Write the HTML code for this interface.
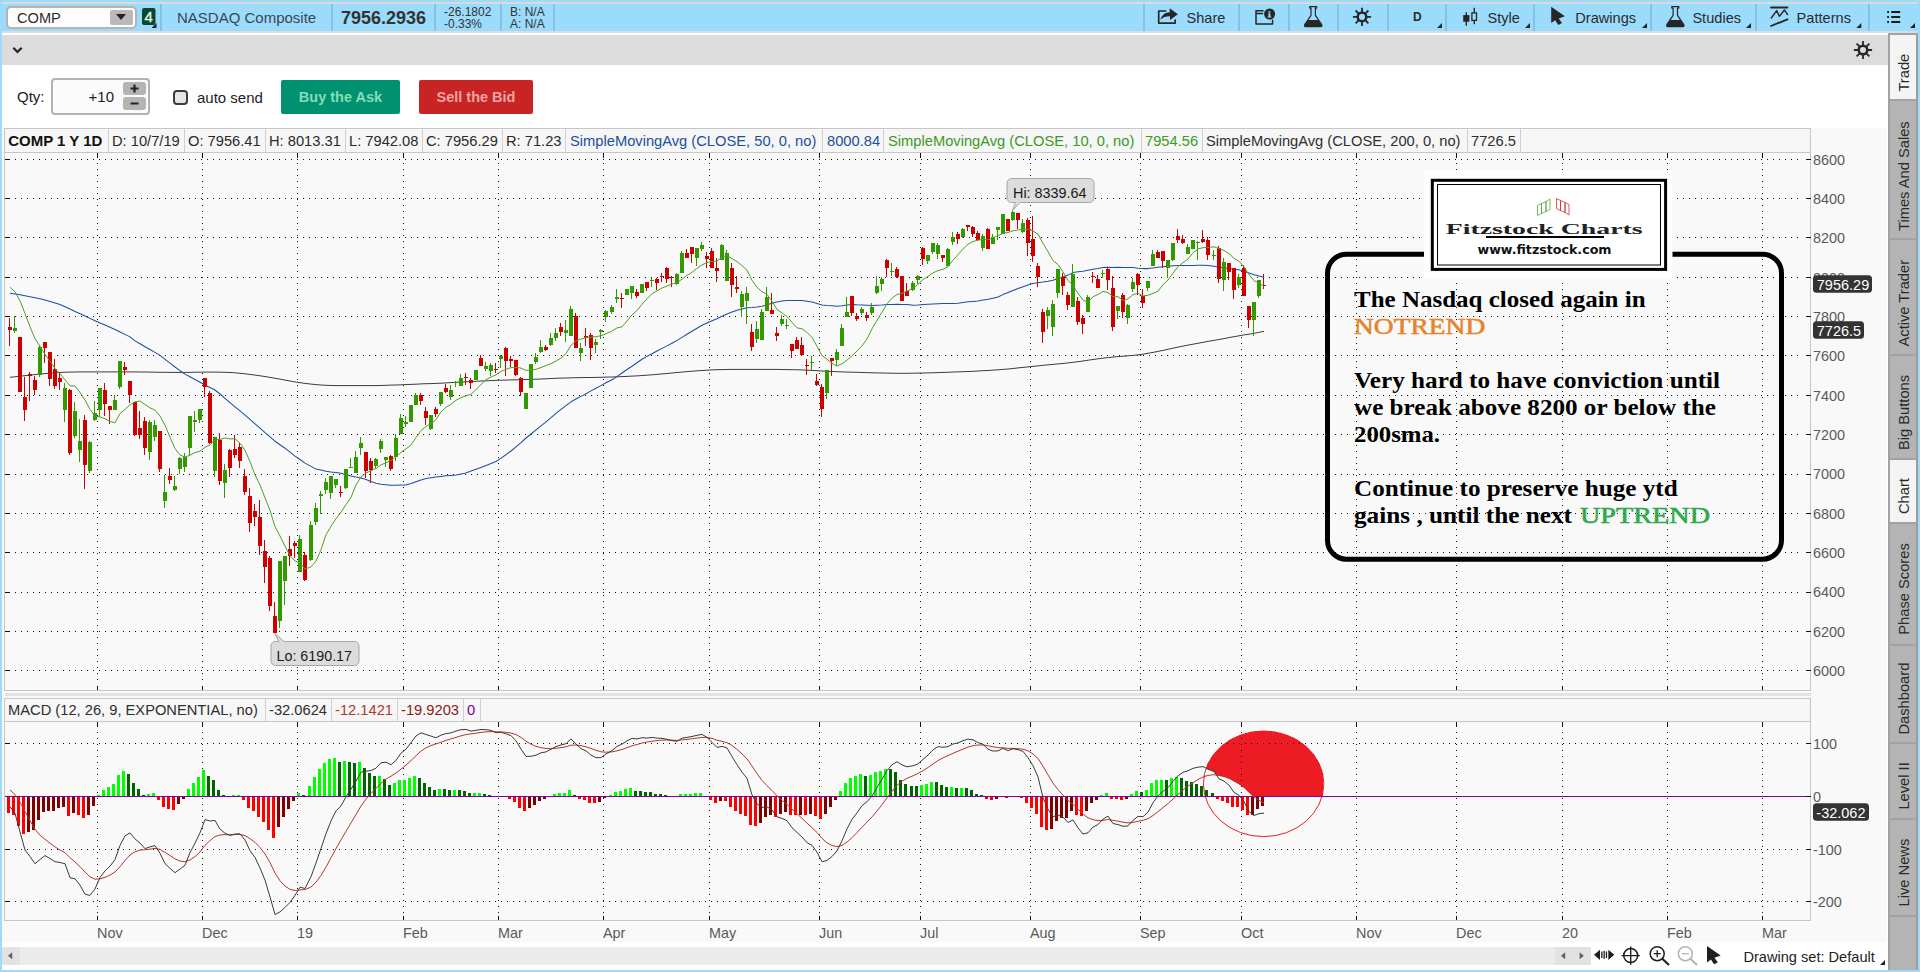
<!DOCTYPE html><html><head><meta charset="utf-8"><title>COMP chart</title><style>

*{box-sizing:border-box}
html,body{margin:0;padding:0}
body{width:1920px;height:972px;overflow:hidden;position:relative;background:#fff;font-family:"Liberation Sans",sans-serif;color:#222;}
.abs{position:absolute}
#frame{left:0;top:0;width:1920px;height:972px;background:#9bdcfd}
#topline{left:2px;top:2px;width:1916px;height:2px;background:#dcd9d6}
#toolbar{left:0;top:4px;width:1920px;height:27px;background:#9bdcfd}
#tbline{left:2px;top:31px;width:1916px;height:2px;background:#dcdcdc}
#main{left:2px;top:33px;width:1886px;height:937px;background:#fff}
#graybar{left:2px;top:35px;width:1886px;height:30px;background:#dcdcdc}
.sep{position:absolute;top:4px;width:2px;height:27px;background:#86c0e2}
.tbtxt{position:absolute;top:10px;font-size:14.6px;color:#2b2b2b;white-space:nowrap;line-height:17px}

</style></head><body>
<div class="abs" id="frame"></div><div class="abs" id="topline"></div><div class="abs" id="toolbar"></div><div class="abs" id="tbline"></div><div class="abs" id="main"></div><div class="abs" id="graybar"></div>
<div class="abs" style="left:6px;top:6px;width:131px;height:23px;background:#fdfdfd;border:2px solid #b6b3b1;border-radius:5px"></div>
<div class="abs" style="left:17px;top:10px;font-size:14.6px;line-height:17px;color:#2b2b2b">COMP</div>
<div class="abs" style="left:110px;top:10px;width:23px;height:15px;background:#b9b9b9;border-radius:2px"></div>
<div class="abs" style="left:116px;top:14px;width:0;height:0;border-left:5px solid transparent;border-right:5px solid transparent;border-top:6px solid #222"></div>
<div class="sep" style="left:160px"></div>
<div class="sep" style="left:331px"></div>
<div class="sep" style="left:434px"></div>
<div class="sep" style="left:500px"></div>
<div class="sep" style="left:553px"></div>
<div class="sep" style="left:1143px"></div>
<div class="sep" style="left:1238px"></div>
<div class="sep" style="left:1288px"></div>
<div class="sep" style="left:1337px"></div>
<div class="sep" style="left:1387px"></div>
<div class="sep" style="left:1445px"></div>
<div class="sep" style="left:1533px"></div>
<div class="sep" style="left:1650px"></div>
<div class="sep" style="left:1754.5px"></div>
<div class="sep" style="left:1868px"></div>
<div class="tbtxt" style="left:177px;top:9.2px;font-size:15px;color:#3a4650">NASDAQ Composite</div>
<div class="tbtxt" style="left:341px;top:8px;font-size:18px;font-weight:bold;line-height:20px;color:#333">7956.2936</div>
<div class="tbtxt" style="left:444px;top:5.5px;font-size:12px;line-height:12.3px;color:#333">-26.1802<br>-0.33%</div>
<div class="tbtxt" style="left:510px;top:5.5px;font-size:12px;line-height:12.3px;color:#333">B: N/A<br>A: N/A</div>
<div class="tbtxt" style="left:1186.5px">Share</div>
<div class="tbtxt" style="left:1487.5px">Style</div>
<div class="tbtxt" style="left:1575.3px">Drawings</div>
<div class="tbtxt" style="left:1692.4px">Studies</div>
<div class="tbtxt" style="left:1796.6px">Patterns</div>
<div class="tbtxt" style="left:1413px;top:10px;font-weight:bold;font-size:12px;line-height:14px">D</div>

<svg class="abs" style="left:0;top:0" width="1920" height="972" viewBox="0 0 1920 972" font-family="Liberation Sans, sans-serif">
<!-- badge 4 -->
<rect x="142" y="8" width="13.5" height="17" rx="2" fill="#06492d"/>
<text x="148.700" y="22" font-size="15" fill="#e9f3ee" stroke="#e9f3ee" stroke-width="0.4" text-anchor="middle">4</text>
<path d="M151.5 28h5v-5z" fill="#222"/>
<!-- dropdown triangles -->
<g fill="#222">
<path d="M1437 28h5v-5z"/><path d="M1525 28h5v-5z"/><path d="M1642 28h5v-5z"/><path d="M1746 28h5v-5z"/><path d="M1856.300 28h5v-5z"/><path d="M1910 28h5v-5z"/>
</g>
<!-- share icon -->
<g fill="none" stroke="#262626" stroke-width="1.700" stroke-linejoin="round" stroke-linecap="round">
<path d="M1165.5 11H1158.700V23.100H1175.200V20"/>
</g>
<path d="M1160.300 19.800C1162 14.500 1165.500 12.300 1169.700 12.200V8.200L1177.900 14.200L1170 20V16.300C1166 16.200 1163 17.300 1160.300 19.800z" fill="#262626"/>
<!-- info window icon -->
<g fill="none" stroke="#262626" stroke-width="1.500" stroke-linejoin="round" stroke-linecap="round">
<path d="M1263 10.700H1256V23.900H1272.600V20.300M1256 13.400H1262.600"/>
</g>
<circle cx="1269.600" cy="14" r="5.500" fill="#262626"/>
<path d="M1268.500 11.200h1.800v1.600h-1.800zM1268 13.600h2.400v3h0.900v1h-3.800v-1h1v-2h-0.500z" fill="#9bdcfd"/>
<!-- flask 1 -->
<g>
<path d="M1309.700 6.600h7v1.500h-1.300v7.300l6.300 9.300c0.600 1 0.100 1.900 -1 1.900h-15c-1.100 0 -1.600 -0.900 -1 -1.900l6.300 -9.300v-7.300h-1.300z" fill="none" stroke="#262626" stroke-width="1.200" stroke-linejoin="round"/>
<path d="M1308.200 19.900h10l3.500 5.200c0.500 0.800 0.100 1.500 -0.800 1.500h-15.400c-0.900 0 -1.300 -0.700 -0.800 -1.500z" fill="#262626"/>
</g>
<g transform="translate(362.1,0)">
<path d="M1309.700 6.600h7v1.500h-1.300v7.300l6.300 9.300c0.600 1 0.100 1.900 -1 1.900h-15c-1.100 0 -1.600 -0.900 -1 -1.900l6.300 -9.300v-7.300h-1.300z" fill="none" stroke="#262626" stroke-width="1.200" stroke-linejoin="round"/>
<path d="M1308.200 19.900h10l3.500 5.200c0.500 0.800 0.100 1.500 -0.800 1.500h-15.400c-0.900 0 -1.300 -0.700 -0.800 -1.500z" fill="#262626"/>
</g>
<!-- gears -->
<g stroke="#262626" fill="none">
<circle cx="1362" cy="16.900" r="4.300" stroke-width="2.500"/>
<path d="M1362 7.800v4M1362 22v4M1352.900 16.900h4M1367.100 16.900h4M1355.600 10.500l2.800 2.800M1365.600 20.500l2.800 2.800M1355.600 23.300l2.800 -2.800M1365.600 13.300l2.800 -2.800" stroke-width="1.800"/>
</g>
<g transform="translate(501,33.1)" stroke="#262626" fill="none">
<circle cx="1362" cy="16.900" r="4.300" stroke-width="2.500"/>
<path d="M1362 7.800v4M1362 22v4M1352.900 16.900h4M1367.100 16.900h4M1355.600 10.500l2.800 2.800M1365.600 20.500l2.800 2.800M1355.600 23.300l2.800 -2.800M1365.600 13.300l2.800 -2.800" stroke-width="1.800"/>
</g>
<!-- style candles icon -->
<g fill="#262626">
<rect x="1463.200" y="15.100" width="6.200" height="6.600"/><rect x="1465.600" y="12.200" width="1.400" height="13.500"/>
<rect x="1473.600" y="7.800" width="1.400" height="5"/><rect x="1473.600" y="20.500" width="1.400" height="3.700"/>
</g>
<rect x="1471.900" y="12.900" width="4.600" height="7.500" fill="none" stroke="#262626" stroke-width="1.300"/>
<!-- cursor arrow (Drawings) -->
<path d="M1551.200 6.700V23.100L1555.100 20.200L1558.300 25L1562 23.100L1558.700 18.400L1564.900 16.200z" fill="#262626"/>
<!-- patterns icon -->
<g fill="none" stroke="#262626" stroke-linecap="round" stroke-linejoin="round">
<path d="M1771 7.500H1787.500" stroke-width="1.800"/>
<path d="M1771.300 18L1776.700 10.600L1779.300 16.300L1784.500 10L1787.600 14.600" stroke-width="1.400"/>
<path d="M1771 26L1787.500 19.300" stroke-width="1.800"/>
</g>
<!-- list icon -->
<g fill="#1a1a1a">
<rect x="1887.200" y="11" width="1.800" height="2"/><rect x="1891.200" y="11" width="9" height="2"/>
<rect x="1887.200" y="16" width="1.800" height="2"/><rect x="1891.200" y="16" width="9" height="2"/>
<rect x="1887.200" y="21" width="1.800" height="2"/><rect x="1891.200" y="21" width="9" height="2"/>
</g>
<!-- chevron in gray bar -->
<path d="M13.300 47.800L17.500 52L21.700 47.800" fill="none" stroke="#222" stroke-width="2.200"/>
<!-- S-curve icon -->
<g fill="none" stroke="#262626" stroke-linecap="round">
<path d="M1818.500 132.500H1836.700M1818.500 150.600H1836.700" stroke-width="2.700"/>
<path d="M1817.400 143.500C1818.500 146.500 1820.300 148 1822.500 146.800C1827 144.500 1829 136.500 1833.500 135.500C1835.600 135.100 1837 137 1837.700 139.500" stroke-width="1.300"/>
</g>
<!-- sidebar -->
<g shape-rendering="crispEdges">
<rect x="1888" y="33" width="30" height="937" fill="#b4b4b4"/>
<rect x="1888" y="33" width="2" height="937" fill="#a2a2a2"/>
<rect x="1916" y="33" width="2" height="937" fill="#9e9c9a"/>
<rect x="1890" y="35" width="26" height="64" fill="#f4f4f4"/>
<rect x="1890" y="460" width="26" height="62" fill="#f4f4f4"/>
<g fill="#a2a2a2">
<rect x="1888" y="33" width="30" height="2"/><rect x="1888" y="99" width="30" height="2"/><rect x="1888" y="238" width="30" height="2"/>
<rect x="1888" y="354" width="30" height="2"/><rect x="1888" y="458" width="30" height="2"/><rect x="1888" y="522" width="30" height="2"/>
<rect x="1888" y="644" width="30" height="2"/><rect x="1888" y="742" width="30" height="2"/><rect x="1888" y="817.500" width="30" height="2"/>
<rect x="1888" y="914.500" width="30" height="2"/>
</g>
</g>
<g font-size="14.700" fill="#2a2a2a">
<text transform="translate(1908.800,91.600) rotate(-90)">Trade</text>
<text transform="translate(1908.800,231) rotate(-90)">Times And Sales</text>
<text transform="translate(1908.800,346.500) rotate(-90)">Active Trader</text>
<text transform="translate(1908.800,450) rotate(-90)">Big Buttons</text>
<text transform="translate(1908.800,514) rotate(-90)">Chart</text>
<text transform="translate(1908.800,634.700) rotate(-90)">Phase Scores</text>
<text transform="translate(1908.800,734.500) rotate(-90)">Dashboard</text>
<text transform="translate(1908.800,809.600) rotate(-90)">Level II</text>
<text transform="translate(1908.800,906.500) rotate(-90)">Live News</text>
</g>
<!-- bottom bar -->
<g shape-rendering="crispEdges">
<rect x="2" y="942" width="1886" height="28" fill="#fff"/>
<rect x="2" y="947" width="1589" height="18" fill="#ebebeb"/>
<rect x="2" y="947" width="18" height="18" fill="#e2e2e2"/>
<rect x="1555" y="947" width="36" height="18" fill="#e2e2e2"/>
</g>
<g fill="#5a6268">
<path d="M8 955.800L12.200 952.300V959.300z"/>
<path d="M1561 955.800L1565.200 952.300V959.300z"/>
<path d="M1583.800 955.800L1579.600 952.300V959.300z"/>
</g>
<g fill="#1f1f1f">
<path d="M1594 954.800L1600 949.700V959.900z"/><path d="M1614.300 954.800L1608.300 949.700V959.900z"/>
<rect x="1601.200" y="951.500" width="1.300" height="6.600"/><rect x="1603.500" y="950.800" width="1.300" height="8"/><rect x="1605.800" y="951.500" width="1.300" height="6.600"/>
</g>
<g fill="none" stroke="#1f1f1f" stroke-width="1.500">
<circle cx="1630.700" cy="955.600" r="7"/><path d="M1630.700 946.500V964.700M1621.600 955.600H1639.800" stroke-width="1.400"/>
<circle cx="1657.200" cy="953.700" r="7"/><path d="M1653.700 953.700H1660.700M1657.200 950.200V957.200" stroke-width="1.300"/><path d="M1662.300 958.800L1669 965" stroke-width="2.200"/>
</g>
<g fill="none" stroke="#b4b4b4" stroke-width="1.500">
<circle cx="1685.300" cy="953.700" r="7"/><path d="M1681.800 953.700H1688.800" stroke-width="1.300"/><path d="M1690.400 958.800L1697 965" stroke-width="2.200"/>
</g>
<path d="M1707 946V962.400L1710.900 959.500L1714.100 964.300L1717.800 962.400L1714.500 957.700L1720.700 955.500z" fill="#1f1f1f"/>
<text x="1743.400" y="961.600" font-size="14.600" fill="#222">Drawing set: Default</text>
<path d="M1880 965h5v-5z" fill="#222"/>
</svg>

<div class="abs" style="left:17px;top:88px;font-size:15px;line-height:18px;color:#222">Qty:</div>
<div class="abs" style="left:51px;top:78px;width:99px;height:37px;border:2px solid #b2b2b2;border-radius:4px;background:#fbfbfb"></div>
<div class="abs" style="left:60px;top:88px;width:54px;text-align:right;font-size:15px;line-height:18px;color:#222">+10</div>
<div class="abs" style="left:123px;top:82px;width:23px;height:13px;background:#b4b4b4;border-radius:3px"></div>
<div class="abs" style="left:123px;top:97px;width:23px;height:13px;background:#b4b4b4;border-radius:3px"></div>
<svg class="abs" style="left:123px;top:82px" width="23" height="28" viewBox="0 0 23 28"><path d="M7.5 6.5h8M11.5 2.500v8M7.500 21.5h8" stroke="#222" stroke-width="2.200" fill="none"/></svg>
<div class="abs" style="left:173px;top:90px;width:15px;height:15px;border:2px solid #3c3c3c;border-radius:4px;background:#e6e6e6"></div>
<div class="abs" style="left:197px;top:89px;font-size:15px;line-height:18px;color:#222">auto send</div>
<div class="abs" style="left:281px;top:80px;width:119px;height:34px;background:#009270;border-radius:2px;color:#86dcb6;font-weight:bold;font-size:14.5px;line-height:35px;text-align:center">Buy the Ask</div>
<div class="abs" style="left:419px;top:80px;width:114px;height:34px;background:#c82424;border-radius:2px;color:#f2a4a4;font-weight:bold;font-size:14.5px;line-height:35px;text-align:center">Sell the Bid</div>

<svg class="abs" style="left:0;top:0" width="1920" height="972" viewBox="0 0 1920 972" font-family="Liberation Sans, sans-serif">
<rect x="2" y="128" width="1885" height="814" fill="#f9f9f9"/>
<g shape-rendering="crispEdges">
<rect x="4.5" y="128.5" width="1806" height="24" fill="#f6f6f6" stroke="#c6c6c6"/>
<rect x="4.5" y="698.5" width="1806" height="23" fill="#f6f6f6" stroke="#c6c6c6"/>
<path d="M4.5 153V690.5H1810.5V128" fill="none" stroke="#c6c6c6"/>
<path d="M4.5 722V920.5H1810.5V698" fill="none" stroke="#c6c6c6"/>
<rect x="5" y="693" width="1806" height="3" fill="#e4e4e4"/>
<polygon points="1206.4,767.3 1206.9,766.1 1207.4,764.9 1207.9,763.8 1208.4,762.7 1208.9,761.8 1209.4,760.8 1209.9,759.9 1210.4,759.1 1210.9,758.3 1211.4,757.5 1211.9,756.8 1212.4,756.0 1212.9,755.3 1213.4,754.7 1213.9,754.0 1214.4,753.4 1214.9,752.8 1215.4,752.2 1215.9,751.6 1216.4,751.0 1216.9,750.5 1217.4,749.9 1217.9,749.4 1218.4,748.9 1218.9,748.4 1219.4,748.0 1219.9,747.5 1220.4,747.0 1220.9,746.6 1221.4,746.1 1221.9,745.7 1222.4,745.3 1222.9,744.9 1223.4,744.5 1223.9,744.1 1224.4,743.7 1224.9,743.4 1225.4,743.0 1225.9,742.6 1226.4,742.3 1226.9,741.9 1227.4,741.6 1227.9,741.3 1228.4,741.0 1228.9,740.7 1229.4,740.3 1229.9,740.0 1230.4,739.8 1230.9,739.5 1231.4,739.2 1231.9,738.9 1232.4,738.6 1232.9,738.4 1233.4,738.1 1233.9,737.9 1234.4,737.6 1234.9,737.4 1235.4,737.2 1235.9,736.9 1236.4,736.7 1236.9,736.5 1237.4,736.3 1237.9,736.1 1238.4,735.8 1238.9,735.6 1239.4,735.5 1239.9,735.3 1240.4,735.1 1240.9,734.9 1241.4,734.7 1241.9,734.5 1242.4,734.4 1242.9,734.2 1243.4,734.1 1243.9,733.9 1244.4,733.8 1244.9,733.6 1245.4,733.5 1245.9,733.3 1246.4,733.2 1246.9,733.1 1247.4,732.9 1247.9,732.8 1248.4,732.7 1248.9,732.6 1249.4,732.5 1249.9,732.4 1250.4,732.3 1250.9,732.2 1251.4,732.1 1251.9,732.0 1252.4,731.9 1252.9,731.8 1253.4,731.8 1253.9,731.7 1254.4,731.6 1254.9,731.6 1255.4,731.5 1255.9,731.4 1256.4,731.4 1256.9,731.3 1257.4,731.3 1257.9,731.2 1258.4,731.2 1258.9,731.2 1259.4,731.1 1259.9,731.1 1260.4,731.1 1260.9,731.1 1261.4,731.0 1261.9,731.0 1262.4,731.0 1262.9,731.0 1263.4,731.0 1263.9,731.0 1264.4,731.0 1264.9,731.0 1265.4,731.0 1265.9,731.0 1266.4,731.1 1266.9,731.1 1267.4,731.1 1267.9,731.1 1268.4,731.2 1268.9,731.2 1269.4,731.2 1269.9,731.3 1270.4,731.3 1270.9,731.4 1271.4,731.4 1271.9,731.5 1272.4,731.6 1272.9,731.6 1273.4,731.7 1273.9,731.8 1274.4,731.9 1274.9,731.9 1275.4,732.0 1275.9,732.1 1276.4,732.2 1276.9,732.3 1277.4,732.4 1277.9,732.5 1278.4,732.6 1278.9,732.7 1279.4,732.9 1279.9,733.0 1280.4,733.1 1280.9,733.2 1281.4,733.4 1281.9,733.5 1282.4,733.6 1282.9,733.8 1283.4,733.9 1283.9,734.1 1284.4,734.3 1284.9,734.4 1285.4,734.6 1285.9,734.8 1286.4,734.9 1286.9,735.1 1287.4,735.3 1287.9,735.5 1288.4,735.7 1288.9,735.9 1289.4,736.1 1289.9,736.3 1290.4,736.5 1290.9,736.7 1291.4,737.0 1291.9,737.2 1292.4,737.4 1292.9,737.7 1293.4,737.9 1293.9,738.2 1294.4,738.4 1294.9,738.7 1295.4,739.0 1295.9,739.2 1296.4,739.5 1296.9,739.8 1297.4,740.1 1297.9,740.4 1298.4,740.7 1298.9,741.0 1299.4,741.4 1299.9,741.7 1300.4,742.0 1300.9,742.4 1301.4,742.7 1301.9,743.1 1302.4,743.4 1302.9,743.8 1303.4,744.2 1303.9,744.6 1304.4,745.0 1304.9,745.4 1305.4,745.8 1305.9,746.2 1306.4,746.7 1306.9,747.1 1307.4,747.6 1307.9,748.0 1308.4,748.5 1308.9,749.0 1309.4,749.5 1309.9,750.1 1310.4,750.6 1310.9,751.1 1311.4,751.7 1311.9,752.3 1312.4,752.9 1312.9,753.5 1313.4,754.1 1313.9,754.8 1314.4,755.5 1314.9,756.2 1315.4,756.9 1315.9,757.7 1316.4,758.4 1316.9,759.3 1317.4,760.1 1317.9,761.0 1318.4,761.9 1318.9,762.9 1319.4,764.0 1319.9,765.1 1320.4,766.3 1320.9,767.6 1321.4,769.0 1321.9,770.6 1322.4,772.5 1322.9,774.7 1323.4,777.7 1323.4,796.0 1322.9,796.0 1322.4,796.0 1321.9,796.0 1321.4,796.0 1320.9,796.0 1320.4,796.0 1319.9,796.0 1319.4,796.0 1318.9,796.0 1318.4,796.0 1317.9,796.0 1317.4,796.0 1316.9,796.0 1316.4,796.0 1315.9,796.0 1315.4,796.0 1314.9,796.0 1314.4,796.0 1313.9,796.0 1313.4,796.0 1312.9,796.0 1312.4,796.0 1311.9,796.0 1311.4,796.0 1310.9,796.0 1310.4,796.0 1309.9,796.0 1309.4,796.0 1308.9,796.0 1308.4,796.0 1307.9,796.0 1307.4,796.0 1306.9,796.0 1306.4,796.0 1305.9,796.0 1305.4,796.0 1304.9,796.0 1304.4,796.0 1303.9,796.0 1303.4,796.0 1302.9,796.0 1302.4,796.0 1301.9,796.0 1301.4,796.0 1300.9,796.0 1300.4,796.0 1299.9,796.0 1299.4,796.0 1298.9,796.0 1298.4,796.0 1297.9,796.0 1297.4,796.0 1296.9,796.0 1296.4,796.0 1295.9,796.0 1295.4,796.0 1294.9,796.0 1294.4,796.0 1293.9,796.0 1293.4,796.0 1292.9,796.0 1292.4,796.0 1291.9,796.0 1291.4,796.0 1290.9,796.0 1290.4,796.0 1289.9,796.0 1289.4,796.0 1288.9,796.0 1288.4,796.0 1287.9,796.0 1287.4,796.0 1286.9,796.0 1286.4,796.0 1285.9,796.0 1285.4,796.0 1284.9,796.0 1284.4,796.0 1283.9,796.0 1283.4,796.0 1282.9,796.0 1282.4,796.0 1281.9,796.0 1281.4,796.0 1280.9,796.0 1280.4,796.0 1279.9,796.0 1279.4,796.0 1278.9,796.0 1278.4,796.0 1277.9,796.0 1277.4,796.0 1276.9,796.0 1276.4,796.0 1275.9,796.0 1275.4,796.0 1274.9,796.0 1274.4,796.0 1273.9,796.0 1273.4,796.0 1272.9,796.0 1272.4,796.0 1271.9,796.0 1271.4,796.0 1270.9,796.0 1270.4,796.0 1269.9,796.0 1269.4,796.0 1268.9,796.0 1268.4,796.0 1267.9,796.0 1267.4,796.0 1266.9,796.0 1266.4,796.0 1265.9,796.0 1265.4,796.0 1264.9,796.0 1264.4,796.0 1263.9,796.0 1263.4,796.0 1262.9,796.0 1262.4,796.0 1261.9,796.0 1261.4,796.0 1260.9,796.0 1260.4,796.0 1259.9,796.0 1259.4,796.0 1258.9,796.0 1258.4,796.0 1257.9,796.0 1257.4,796.0 1256.9,796.0 1256.4,796.0 1255.9,796.0 1255.4,796.0 1254.9,796.0 1254.4,796.0 1253.9,796.0 1253.4,796.0 1252.9,795.9 1252.4,795.5 1251.9,795.0 1251.4,794.5 1250.9,794.1 1250.4,793.6 1249.9,793.1 1249.4,792.7 1248.9,792.2 1248.4,791.7 1247.9,791.3 1247.4,790.8 1246.9,790.3 1246.4,789.8 1245.9,789.3 1245.4,788.8 1244.9,788.4 1244.4,787.9 1243.9,787.4 1243.4,787.1 1242.9,786.7 1242.4,786.4 1241.9,786.0 1241.4,785.7 1240.9,785.3 1240.4,784.9 1239.9,784.6 1239.4,784.2 1238.9,783.9 1238.4,783.6 1237.9,783.3 1237.4,783.1 1236.9,782.8 1236.4,782.5 1235.9,782.2 1235.4,781.9 1234.9,781.6 1234.4,781.4 1233.9,781.1 1233.4,780.8 1232.9,780.5 1232.4,780.2 1231.9,780.0 1231.4,779.7 1230.9,779.4 1230.4,779.1 1229.9,778.8 1229.4,778.6 1228.9,778.3 1228.4,778.1 1227.9,778.0 1227.4,777.8 1226.9,777.6 1226.4,777.4 1225.9,777.3 1225.4,777.1 1224.9,776.9 1224.4,776.8 1223.9,776.6 1223.4,776.5 1222.9,776.4 1222.4,776.3 1221.9,776.1 1221.4,776.0 1220.9,775.9 1220.4,775.8 1219.9,775.7 1219.4,775.6 1218.9,775.5 1218.4,775.4 1217.9,775.3 1217.4,775.2 1216.9,775.1 1216.4,775.1 1215.9,774.4 1215.4,773.7 1214.9,772.9 1214.4,772.2 1213.9,771.6 1213.4,771.4 1212.9,771.2 1212.4,771.0 1211.9,770.8 1211.4,770.6 1210.9,770.4 1210.4,770.2 1209.9,770.0 1209.4,769.8 1208.9,769.6 1208.4,769.4 1207.9,769.2 1207.4,768.9 1206.9,768.7 1206.4,768.4" fill="#ed1c24"/>
<rect x="108" y="129" width="1" height="23" fill="#d0d0d0"/>
<rect x="184" y="129" width="1" height="23" fill="#d0d0d0"/>
<rect x="265" y="129" width="1" height="23" fill="#d0d0d0"/>
<rect x="345" y="129" width="1" height="23" fill="#d0d0d0"/>
<rect x="422" y="129" width="1" height="23" fill="#d0d0d0"/>
<rect x="502" y="129" width="1" height="23" fill="#d0d0d0"/>
<rect x="565" y="129" width="1" height="23" fill="#d0d0d0"/>
<rect x="822" y="129" width="1" height="23" fill="#d0d0d0"/>
<rect x="883" y="129" width="1" height="23" fill="#d0d0d0"/>
<rect x="1141" y="129" width="1" height="23" fill="#d0d0d0"/>
<rect x="1202" y="129" width="1" height="23" fill="#d0d0d0"/>
<rect x="1467" y="129" width="1" height="23" fill="#d0d0d0"/>
<rect x="1520" y="129" width="1" height="23" fill="#d0d0d0"/>
<rect x="265" y="699" width="1" height="22" fill="#d0d0d0"/>
<rect x="331" y="699" width="1" height="22" fill="#d0d0d0"/>
<rect x="397" y="699" width="1" height="22" fill="#d0d0d0"/>
<rect x="463" y="699" width="1" height="22" fill="#d0d0d0"/>
<rect x="480" y="699" width="1" height="22" fill="#d0d0d0"/>
<path d="M9 670.5H1800" stroke="#111" stroke-width="1" stroke-dasharray="1 5"/>
<rect x="5" y="670" width="4" height="1" fill="#111"/><rect x="1806" y="670" width="5" height="1" fill="#111"/>
<path d="M9 631.5H1800" stroke="#111" stroke-width="1" stroke-dasharray="1 5"/>
<rect x="5" y="631" width="4" height="1" fill="#111"/><rect x="1806" y="631" width="5" height="1" fill="#111"/>
<path d="M9 592.5H1800" stroke="#111" stroke-width="1" stroke-dasharray="1 5"/>
<rect x="5" y="592" width="4" height="1" fill="#111"/><rect x="1806" y="592" width="5" height="1" fill="#111"/>
<path d="M9 552.5H1800" stroke="#111" stroke-width="1" stroke-dasharray="1 5"/>
<rect x="5" y="552" width="4" height="1" fill="#111"/><rect x="1806" y="552" width="5" height="1" fill="#111"/>
<path d="M9 513.5H1800" stroke="#111" stroke-width="1" stroke-dasharray="1 5"/>
<rect x="5" y="513" width="4" height="1" fill="#111"/><rect x="1806" y="513" width="5" height="1" fill="#111"/>
<path d="M9 474.5H1800" stroke="#111" stroke-width="1" stroke-dasharray="1 5"/>
<rect x="5" y="474" width="4" height="1" fill="#111"/><rect x="1806" y="474" width="5" height="1" fill="#111"/>
<path d="M9 434.5H1800" stroke="#111" stroke-width="1" stroke-dasharray="1 5"/>
<rect x="5" y="434" width="4" height="1" fill="#111"/><rect x="1806" y="434" width="5" height="1" fill="#111"/>
<path d="M9 395.5H1800" stroke="#111" stroke-width="1" stroke-dasharray="1 5"/>
<rect x="5" y="395" width="4" height="1" fill="#111"/><rect x="1806" y="395" width="5" height="1" fill="#111"/>
<path d="M9 355.5H1800" stroke="#111" stroke-width="1" stroke-dasharray="1 5"/>
<rect x="5" y="355" width="4" height="1" fill="#111"/><rect x="1806" y="355" width="5" height="1" fill="#111"/>
<path d="M9 316.5H1800" stroke="#111" stroke-width="1" stroke-dasharray="1 5"/>
<rect x="5" y="316" width="4" height="1" fill="#111"/><rect x="1806" y="316" width="5" height="1" fill="#111"/>
<path d="M9 277.5H1800" stroke="#111" stroke-width="1" stroke-dasharray="1 5"/>
<rect x="5" y="277" width="4" height="1" fill="#111"/><rect x="1806" y="277" width="5" height="1" fill="#111"/>
<path d="M9 237.5H1800" stroke="#111" stroke-width="1" stroke-dasharray="1 5"/>
<rect x="5" y="237" width="4" height="1" fill="#111"/><rect x="1806" y="237" width="5" height="1" fill="#111"/>
<path d="M9 198.5H1800" stroke="#111" stroke-width="1" stroke-dasharray="1 5"/>
<rect x="5" y="198" width="4" height="1" fill="#111"/><rect x="1806" y="198" width="5" height="1" fill="#111"/>
<path d="M9 159.5H1800" stroke="#111" stroke-width="1" stroke-dasharray="1 5"/>
<rect x="5" y="159" width="4" height="1" fill="#111"/><rect x="1806" y="159" width="5" height="1" fill="#111"/>
<path d="M9 743.5H1800" stroke="#111" stroke-width="1" stroke-dasharray="1 5"/>
<rect x="5" y="743" width="4" height="1" fill="#111"/><rect x="1806" y="743" width="5" height="1" fill="#111"/>
<path d="M9 849.5H1800" stroke="#111" stroke-width="1" stroke-dasharray="1 5"/>
<rect x="5" y="849" width="4" height="1" fill="#111"/><rect x="1806" y="849" width="5" height="1" fill="#111"/>
<path d="M9 901.5H1800" stroke="#111" stroke-width="1" stroke-dasharray="1 5"/>
<rect x="5" y="901" width="4" height="1" fill="#111"/><rect x="1806" y="901" width="5" height="1" fill="#111"/>
<rect x="1806" y="796" width="5" height="1" fill="#111"/>
<path d="M97.5 157V684" stroke="#111" stroke-width="1" stroke-dasharray="1 5"/>
<path d="M97.5 726V915" stroke="#111" stroke-width="1" stroke-dasharray="1 5"/>
<rect x="97" y="153" width="1" height="5" fill="#111"/>
<rect x="97" y="686" width="1" height="4" fill="#111"/>
<rect x="97" y="722" width="1" height="5" fill="#111"/>
<rect x="97" y="916" width="1" height="4" fill="#111"/>
<path d="M202.5 157V684" stroke="#111" stroke-width="1" stroke-dasharray="1 5"/>
<path d="M202.5 726V915" stroke="#111" stroke-width="1" stroke-dasharray="1 5"/>
<rect x="202" y="153" width="1" height="5" fill="#111"/>
<rect x="202" y="686" width="1" height="4" fill="#111"/>
<rect x="202" y="722" width="1" height="5" fill="#111"/>
<rect x="202" y="916" width="1" height="4" fill="#111"/>
<path d="M297.5 157V684" stroke="#111" stroke-width="1" stroke-dasharray="1 5"/>
<path d="M297.5 726V915" stroke="#111" stroke-width="1" stroke-dasharray="1 5"/>
<rect x="297" y="153" width="1" height="5" fill="#111"/>
<rect x="297" y="686" width="1" height="4" fill="#111"/>
<rect x="297" y="722" width="1" height="5" fill="#111"/>
<rect x="297" y="916" width="1" height="4" fill="#111"/>
<path d="M403.5 157V684" stroke="#111" stroke-width="1" stroke-dasharray="1 5"/>
<path d="M403.5 726V915" stroke="#111" stroke-width="1" stroke-dasharray="1 5"/>
<rect x="403" y="153" width="1" height="5" fill="#111"/>
<rect x="403" y="686" width="1" height="4" fill="#111"/>
<rect x="403" y="722" width="1" height="5" fill="#111"/>
<rect x="403" y="916" width="1" height="4" fill="#111"/>
<path d="M498.5 157V684" stroke="#111" stroke-width="1" stroke-dasharray="1 5"/>
<path d="M498.5 726V915" stroke="#111" stroke-width="1" stroke-dasharray="1 5"/>
<rect x="498" y="153" width="1" height="5" fill="#111"/>
<rect x="498" y="686" width="1" height="4" fill="#111"/>
<rect x="498" y="722" width="1" height="5" fill="#111"/>
<rect x="498" y="916" width="1" height="4" fill="#111"/>
<path d="M603.5 157V684" stroke="#111" stroke-width="1" stroke-dasharray="1 5"/>
<path d="M603.5 726V915" stroke="#111" stroke-width="1" stroke-dasharray="1 5"/>
<rect x="603" y="153" width="1" height="5" fill="#111"/>
<rect x="603" y="686" width="1" height="4" fill="#111"/>
<rect x="603" y="722" width="1" height="5" fill="#111"/>
<rect x="603" y="916" width="1" height="4" fill="#111"/>
<path d="M709.5 157V684" stroke="#111" stroke-width="1" stroke-dasharray="1 5"/>
<path d="M709.5 726V915" stroke="#111" stroke-width="1" stroke-dasharray="1 5"/>
<rect x="709" y="153" width="1" height="5" fill="#111"/>
<rect x="709" y="686" width="1" height="4" fill="#111"/>
<rect x="709" y="722" width="1" height="5" fill="#111"/>
<rect x="709" y="916" width="1" height="4" fill="#111"/>
<path d="M819.5 157V684" stroke="#111" stroke-width="1" stroke-dasharray="1 5"/>
<path d="M819.5 726V915" stroke="#111" stroke-width="1" stroke-dasharray="1 5"/>
<rect x="819" y="153" width="1" height="5" fill="#111"/>
<rect x="819" y="686" width="1" height="4" fill="#111"/>
<rect x="819" y="722" width="1" height="5" fill="#111"/>
<rect x="819" y="916" width="1" height="4" fill="#111"/>
<path d="M920.5 157V684" stroke="#111" stroke-width="1" stroke-dasharray="1 5"/>
<path d="M920.5 726V915" stroke="#111" stroke-width="1" stroke-dasharray="1 5"/>
<rect x="920" y="153" width="1" height="5" fill="#111"/>
<rect x="920" y="686" width="1" height="4" fill="#111"/>
<rect x="920" y="722" width="1" height="5" fill="#111"/>
<rect x="920" y="916" width="1" height="4" fill="#111"/>
<path d="M1030.5 157V684" stroke="#111" stroke-width="1" stroke-dasharray="1 5"/>
<path d="M1030.5 726V915" stroke="#111" stroke-width="1" stroke-dasharray="1 5"/>
<rect x="1030" y="153" width="1" height="5" fill="#111"/>
<rect x="1030" y="686" width="1" height="4" fill="#111"/>
<rect x="1030" y="722" width="1" height="5" fill="#111"/>
<rect x="1030" y="916" width="1" height="4" fill="#111"/>
<path d="M1140.5 157V684" stroke="#111" stroke-width="1" stroke-dasharray="1 5"/>
<path d="M1140.5 726V915" stroke="#111" stroke-width="1" stroke-dasharray="1 5"/>
<rect x="1140" y="153" width="1" height="5" fill="#111"/>
<rect x="1140" y="686" width="1" height="4" fill="#111"/>
<rect x="1140" y="722" width="1" height="5" fill="#111"/>
<rect x="1140" y="916" width="1" height="4" fill="#111"/>
<path d="M1241.5 157V684" stroke="#111" stroke-width="1" stroke-dasharray="1 5"/>
<path d="M1241.5 726V915" stroke="#111" stroke-width="1" stroke-dasharray="1 5"/>
<rect x="1241" y="153" width="1" height="5" fill="#111"/>
<rect x="1241" y="686" width="1" height="4" fill="#111"/>
<rect x="1241" y="722" width="1" height="5" fill="#111"/>
<rect x="1241" y="916" width="1" height="4" fill="#111"/>
<path d="M1356.5 157V684" stroke="#111" stroke-width="1" stroke-dasharray="1 5"/>
<path d="M1356.5 726V915" stroke="#111" stroke-width="1" stroke-dasharray="1 5"/>
<rect x="1356" y="153" width="1" height="5" fill="#111"/>
<rect x="1356" y="686" width="1" height="4" fill="#111"/>
<rect x="1356" y="722" width="1" height="5" fill="#111"/>
<rect x="1356" y="916" width="1" height="4" fill="#111"/>
<path d="M1456.5 157V684" stroke="#111" stroke-width="1" stroke-dasharray="1 5"/>
<path d="M1456.5 726V915" stroke="#111" stroke-width="1" stroke-dasharray="1 5"/>
<rect x="1456" y="153" width="1" height="5" fill="#111"/>
<rect x="1456" y="686" width="1" height="4" fill="#111"/>
<rect x="1456" y="722" width="1" height="5" fill="#111"/>
<rect x="1456" y="916" width="1" height="4" fill="#111"/>
<path d="M1562.5 157V684" stroke="#111" stroke-width="1" stroke-dasharray="1 5"/>
<path d="M1562.5 726V915" stroke="#111" stroke-width="1" stroke-dasharray="1 5"/>
<rect x="1562" y="153" width="1" height="5" fill="#111"/>
<rect x="1562" y="686" width="1" height="4" fill="#111"/>
<rect x="1562" y="722" width="1" height="5" fill="#111"/>
<rect x="1562" y="916" width="1" height="4" fill="#111"/>
<path d="M1667.5 157V684" stroke="#111" stroke-width="1" stroke-dasharray="1 5"/>
<path d="M1667.5 726V915" stroke="#111" stroke-width="1" stroke-dasharray="1 5"/>
<rect x="1667" y="153" width="1" height="5" fill="#111"/>
<rect x="1667" y="686" width="1" height="4" fill="#111"/>
<rect x="1667" y="722" width="1" height="5" fill="#111"/>
<rect x="1667" y="916" width="1" height="4" fill="#111"/>
<path d="M1762.5 157V684" stroke="#111" stroke-width="1" stroke-dasharray="1 5"/>
<path d="M1762.5 726V915" stroke="#111" stroke-width="1" stroke-dasharray="1 5"/>
<rect x="1762" y="153" width="1" height="5" fill="#111"/>
<rect x="1762" y="686" width="1" height="4" fill="#111"/>
<rect x="1762" y="722" width="1" height="5" fill="#111"/>
<rect x="1762" y="916" width="1" height="4" fill="#111"/>
</g>
<polyline points="10.0,377.3 15.0,376.8 20.0,376.2 25.0,375.7 30.0,375.1 35.0,374.6 40.0,374.1 45.0,373.6 50.0,373.2 55.0,372.8 60.0,372.5 65.0,372.2 70.0,372.1 75.0,372.0 80.0,371.9 85.0,371.9 90.0,371.9 95.0,371.9 100.0,371.9 105.0,371.9 110.0,371.9 115.0,371.9 120.0,371.9 125.0,371.9 130.0,371.9 135.0,371.9 140.0,372.0 145.0,372.0 150.0,372.1 155.0,372.2 160.0,372.3 165.0,372.3 170.0,372.4 175.0,372.4 180.0,372.4 185.0,372.4 190.0,372.4 195.0,372.2 200.0,372.2 205.0,372.1 210.0,372.1 215.0,372.1 220.0,372.2 225.0,372.3 230.0,372.5 235.0,372.8 240.0,373.3 245.0,373.8 250.0,374.4 255.0,375.1 260.0,375.8 265.0,376.5 270.0,377.4 275.0,378.3 280.0,379.1 285.0,380.1 290.0,381.0 295.0,381.9 300.0,382.7 305.0,383.4 311.0,384.1 316.0,384.6 321.0,385.0 326.0,385.3 331.0,385.5 336.0,385.6 341.0,385.6 346.0,385.6 351.0,385.6 356.0,385.6 361.0,385.6 366.0,385.6 371.0,385.6 376.0,385.6 381.0,385.5 386.0,385.3 391.0,385.1 396.0,385.0 401.0,384.8 406.0,384.6 411.0,384.4 416.0,384.2 421.0,383.9 426.0,383.7 431.0,383.6 436.0,383.4 441.0,383.2 446.0,382.9 451.0,382.6 456.0,382.3 461.0,382.0 466.0,381.8 471.0,381.5 476.0,381.3 481.0,381.0 486.0,380.8 491.0,380.6 496.0,380.4 501.0,380.2 506.0,380.1 511.0,379.9 516.0,379.8 521.0,379.7 526.0,379.5 531.0,379.4 536.0,379.2 541.0,379.0 546.0,378.8 551.0,378.5 556.0,378.3 561.0,378.1 566.0,378.0 571.0,377.8 576.0,377.7 581.0,377.6 586.0,377.5 591.0,377.5 596.0,377.4 601.0,377.3 606.0,377.1 612.0,377.0 617.0,376.8 622.0,376.6 627.0,376.4 632.0,376.1 637.0,375.9 642.0,375.5 647.0,375.2 652.0,374.8 657.0,374.4 662.0,373.9 667.0,373.5 672.0,373.0 677.0,372.5 682.0,372.1 687.0,371.6 692.0,371.2 697.0,370.8 702.0,370.5 707.0,370.2 712.0,369.9 717.0,369.7 722.0,369.6 727.0,369.5 732.0,369.4 737.0,369.4 742.0,369.4 747.0,369.4 752.0,369.4 757.0,369.4 762.0,369.4 767.0,369.4 772.0,369.4 777.0,369.4 782.0,369.5 787.0,369.6 792.0,369.7 797.0,369.8 802.0,369.9 807.0,370.2 812.0,370.4 817.0,370.7 822.0,371.0 827.0,371.3 832.0,371.5 837.0,371.7 842.0,371.9 847.0,372.1 852.0,372.2 857.0,372.3 862.0,372.5 867.0,372.6 872.0,372.8 877.0,372.9 882.0,373.0 887.0,373.1 892.0,373.2 897.0,373.3 902.0,373.3 907.0,373.3 913.0,373.2 918.0,373.1 923.0,373.0 928.0,372.9 933.0,372.8 938.0,372.6 943.0,372.4 948.0,372.3 953.0,372.0 958.0,371.9 963.0,371.7 968.0,371.5 973.0,371.3 978.0,371.0 983.0,370.7 988.0,370.5 993.0,370.1 998.0,369.8 1003.0,369.4 1008.0,369.0 1013.0,368.5 1018.0,367.9 1023.0,367.4 1028.0,366.9 1033.0,366.4 1038.0,365.9 1043.0,365.3 1048.0,364.8 1053.0,364.4 1058.0,363.9 1063.0,363.5 1068.0,362.9 1073.0,362.3 1078.0,361.7 1083.0,361.0 1088.0,360.2 1093.0,359.5 1098.0,358.8 1103.0,358.2 1108.0,357.6 1113.0,357.1 1118.0,356.6 1123.0,356.2 1128.0,355.8 1133.0,355.4 1138.0,354.9 1143.0,354.2 1148.0,353.3 1153.0,352.4 1158.0,351.4 1163.0,350.4 1168.0,349.3 1173.0,348.2 1178.0,347.1 1183.0,346.1 1188.0,345.1 1193.0,344.2 1198.0,343.3 1203.0,342.3 1208.0,341.4 1214.0,340.4 1219.0,339.5 1224.0,338.6 1229.0,337.6 1234.0,336.7 1239.0,335.8 1244.0,334.9 1249.0,334.2 1254.0,333.4 1259.0,332.3 1264.0,331.3" fill="none" stroke="#3c3c3c" stroke-width="1.0" stroke-linejoin="round"/>
<polyline points="10.0,293.2 15.0,294.0 20.0,294.8 25.0,295.7 30.0,296.7 35.0,297.7 40.0,298.7 45.0,299.9 50.0,301.4 55.0,302.9 60.0,304.5 65.0,306.8 70.0,309.1 75.0,311.4 80.0,313.7 85.0,316.0 90.0,318.4 95.0,320.7 100.0,322.9 105.0,325.0 110.0,327.2 115.0,329.5 120.0,332.0 125.0,334.4 130.0,336.9 135.0,340.9 140.0,343.8 145.0,346.7 150.0,349.5 155.0,352.4 160.0,355.4 165.0,359.3 170.0,363.2 175.0,367.0 180.0,370.7 185.0,374.1 190.0,376.8 195.0,379.5 200.0,382.3 205.0,385.0 210.0,387.5 215.0,390.0 220.0,394.0 225.0,398.3 230.0,402.6 235.0,406.8 240.0,410.9 245.0,415.1 250.0,419.4 255.0,423.8 260.0,428.1 265.0,432.6 270.0,436.9 275.0,441.2 280.0,444.8 285.0,448.2 290.0,452.2 295.0,456.1 300.0,459.5 305.0,463.1 311.0,466.4 316.0,469.1 321.0,470.0 326.0,471.3 331.0,472.1 336.0,472.5 341.0,473.3 346.0,474.5 351.0,475.9 356.0,477.1 361.0,478.0 366.0,479.4 371.0,481.4 376.0,483.2 381.0,484.2 386.0,484.7 391.0,485.3 396.0,485.2 401.0,485.1 406.0,484.9 411.0,483.5 416.0,481.7 421.0,480.0 426.0,478.4 431.0,477.7 436.0,476.9 441.0,476.4 446.0,475.8 451.0,475.4 456.0,475.0 461.0,474.0 466.0,472.9 471.0,471.1 476.0,469.3 481.0,467.4 486.0,465.5 491.0,463.6 496.0,461.5 501.0,458.1 506.0,454.7 511.0,451.0 516.0,446.9 521.0,442.6 526.0,438.0 531.0,434.0 536.0,429.9 541.0,425.8 546.0,421.8 551.0,417.7 556.0,413.3 561.0,409.4 566.0,405.6 571.0,401.8 576.0,399.0 581.0,396.4 586.0,393.7 591.0,390.9 596.0,388.3 601.0,385.6 606.0,382.7 612.0,379.7 617.0,376.6 622.0,373.0 627.0,369.5 632.0,366.2 637.0,362.7 642.0,359.2 647.0,356.4 652.0,353.7 657.0,351.0 662.0,348.4 667.0,345.9 672.0,343.3 677.0,340.4 682.0,337.4 687.0,334.3 692.0,331.3 697.0,328.3 702.0,325.3 707.0,323.0 712.0,320.8 717.0,318.7 722.0,316.2 727.0,313.9 732.0,312.0 737.0,310.3 742.0,309.1 747.0,307.7 752.0,307.5 757.0,307.0 762.0,306.2 767.0,304.7 772.0,303.2 777.0,301.9 782.0,301.1 787.0,300.4 792.0,300.4 797.0,300.4 802.0,300.6 807.0,301.3 812.0,302.1 817.0,303.4 822.0,305.0 827.0,305.5 832.0,305.8 837.0,306.2 842.0,305.7 847.0,305.0 852.0,304.5 857.0,304.8 862.0,304.9 867.0,305.2 872.0,305.4 877.0,305.2 882.0,305.0 887.0,304.6 892.0,304.4 897.0,304.3 902.0,304.5 907.0,304.6 913.0,305.2 918.0,305.0 923.0,304.6 928.0,304.2 933.0,304.0 938.0,303.7 943.0,303.6 948.0,303.5 953.0,303.4 958.0,303.2 963.0,302.5 968.0,301.8 973.0,301.5 978.0,301.1 983.0,300.1 988.0,299.3 993.0,298.2 998.0,297.0 1003.0,294.6 1008.0,292.5 1013.0,290.4 1018.0,288.6 1023.0,286.8 1028.0,285.0 1033.0,283.5 1038.0,282.7 1043.0,282.1 1048.0,281.3 1053.0,280.3 1058.0,278.5 1063.0,277.0 1068.0,275.1 1073.0,272.6 1078.0,271.8 1083.0,271.2 1088.0,270.2 1093.0,269.2 1098.0,268.5 1103.0,267.6 1108.0,267.2 1113.0,267.4 1118.0,267.3 1123.0,267.4 1128.0,267.5 1133.0,267.6 1138.0,268.2 1143.0,268.6 1148.0,268.6 1153.0,267.9 1158.0,267.2 1163.0,266.7 1168.0,266.2 1173.0,265.7 1178.0,265.5 1183.0,265.5 1188.0,265.5 1193.0,265.4 1198.0,265.3 1203.0,265.3 1208.0,265.5 1214.0,266.3 1219.0,267.3 1224.0,267.8 1229.0,268.4 1234.0,269.2 1239.0,269.8 1244.0,271.2 1249.0,273.0 1254.0,274.7 1259.0,275.9 1264.0,277.2" fill="none" stroke="#1d4f9e" stroke-width="1.05" stroke-linejoin="round"/>
<g shape-rendering="crispEdges">
<path fill="#cc0000" d="M9 318h1V346h-1zM8 327h4V330h-4z"/>
<path fill="#339900" d="M14 316h1V333h-1zM13 328h4V331h-4z"/>
<path fill="#cc0000" d="M19 337h1V392h-1zM18 337h4V392h-4z"/>
<path fill="#cc0000" d="M24 377h1V421h-1zM23 397h4V410h-4z"/>
<path fill="#cc0000" d="M29 372h1V401h-1zM28 374h4V376h-4z"/>
<path fill="#cc0000" d="M34 376h1V395h-1zM33 380h4V390h-4z"/>
<path fill="#339900" d="M39 346h1V377h-1zM38 347h4V375h-4z"/>
<path fill="#cc0000" d="M44 342h1V363h-1zM43 342h4V348h-4z"/>
<path fill="#cc0000" d="M49 352h1V386h-1zM48 352h4V379h-4z"/>
<path fill="#cc0000" d="M54 359h1V389h-1zM53 369h4V386h-4z"/>
<path fill="#cc0000" d="M59 372h1V390h-1zM58 378h4V382h-4z"/>
<path fill="#339900" d="M64 383h1V422h-1zM63 388h4V410h-4z"/>
<path fill="#cc0000" d="M69 389h1V455h-1zM68 390h4V453h-4z"/>
<path fill="#339900" d="M74 402h1V438h-1zM73 411h4V436h-4z"/>
<path fill="#339900" d="M79 419h1V462h-1zM78 441h4V450h-4z"/>
<path fill="#cc0000" d="M84 415h1V489h-1zM83 420h4V465h-4z"/>
<path fill="#339900" d="M89 441h1V473h-1zM88 442h4V471h-4z"/>
<path fill="#339900" d="M94 401h1V421h-1zM93 413h4V420h-4z"/>
<path fill="#339900" d="M99 388h1V417h-1zM98 388h4V410h-4z"/>
<path fill="#cc0000" d="M104 383h1V416h-1zM103 390h4V404h-4z"/>
<path fill="#cc0000" d="M109 406h1V424h-1zM108 406h4V410h-4z"/>
<path fill="#339900" d="M114 395h1V410h-1zM113 400h4V410h-4z"/>
<path fill="#339900" d="M119 361h1V389h-1zM118 361h4V387h-4z"/>
<path fill="#cc0000" d="M124 362h1V375h-1zM123 367h4V370h-4z"/>
<path fill="#cc0000" d="M129 381h1V403h-1zM128 381h4V395h-4z"/>
<path fill="#cc0000" d="M134 402h1V436h-1zM133 402h4V435h-4z"/>
<path fill="#cc0000" d="M139 411h1V439h-1zM138 428h4V435h-4z"/>
<path fill="#cc0000" d="M144 417h1V455h-1zM143 421h4V448h-4z"/>
<path fill="#339900" d="M149 420h1V460h-1zM148 422h4V452h-4z"/>
<path fill="#339900" d="M154 420h1V441h-1zM153 425h4V437h-4z"/>
<path fill="#cc0000" d="M159 431h1V472h-1zM158 431h4V469h-4z"/>
<path fill="#339900" d="M164 475h1V508h-1zM163 492h4V501h-4z"/>
<path fill="#cc0000" d="M169 468h1V484h-1zM168 476h4V480h-4z"/>
<path fill="#339900" d="M174 476h1V491h-1zM173 486h4V490h-4z"/>
<path fill="#339900" d="M179 457h1V474h-1zM178 458h4V469h-4z"/>
<path fill="#339900" d="M184 453h1V472h-1zM183 457h4V467h-4z"/>
<path fill="#339900" d="M189 416h1V455h-1zM188 416h4V448h-4z"/>
<path fill="#339900" d="M194 411h1V432h-1zM193 420h4V422h-4z"/>
<path fill="#339900" d="M199 409h1V423h-1zM198 409h4V420h-4z"/>
<path fill="#cc0000" d="M204 378h1V397h-1zM203 378h4V387h-4z"/>
<path fill="#cc0000" d="M209 391h1V444h-1zM208 393h4V443h-4z"/>
<path fill="#339900" d="M214 437h1V477h-1zM213 437h4V471h-4z"/>
<path fill="#cc0000" d="M219 433h1V485h-1zM218 440h4V481h-4z"/>
<path fill="#339900" d="M224 464h1V498h-1zM223 470h4V483h-4z"/>
<path fill="#cc0000" d="M229 449h1V477h-1zM228 450h4V468h-4z"/>
<path fill="#cc0000" d="M234 435h1V458h-1zM233 449h4V455h-4z"/>
<path fill="#cc0000" d="M239 443h1V468h-1zM238 447h4V461h-4z"/>
<path fill="#cc0000" d="M244 469h1V495h-1zM243 476h4V492h-4z"/>
<path fill="#cc0000" d="M249 488h1V532h-1zM248 496h4V523h-4z"/>
<path fill="#cc0000" d="M254 504h1V526h-1zM253 511h4V517h-4z"/>
<path fill="#cc0000" d="M259 500h1V555h-1zM258 517h4V546h-4z"/>
<path fill="#cc0000" d="M264 540h1V583h-1zM263 551h4V567h-4z"/>
<path fill="#cc0000" d="M269 556h1V611h-1zM268 558h4V606h-4z"/>
<path fill="#cc0000" d="M274 602h1V633h-1zM273 616h4V633h-4z"/>
<path fill="#339900" d="M279 561h1V628h-1zM278 561h4V621h-4z"/>
<path fill="#339900" d="M284 556h1V605h-1zM283 556h4V581h-4z"/>
<path fill="#cc0000" d="M289 536h1V566h-1zM288 549h4V556h-4z"/>
<path fill="#cc0000" d="M294 541h1V558h-1zM293 543h4V546h-4z"/>
<path fill="#339900" d="M299 535h1V572h-1zM298 539h4V572h-4z"/>
<path fill="#cc0000" d="M304 552h1V581h-1zM303 555h4V580h-4z"/>
<path fill="#339900" d="M310 521h1V561h-1zM309 525h4V560h-4z"/>
<path fill="#339900" d="M315 503h1V525h-1zM314 508h4V522h-4z"/>
<path fill="#339900" d="M320 491h1V514h-1zM319 494h4V496h-4z"/>
<path fill="#339900" d="M325 478h1V494h-1zM324 482h4V490h-4z"/>
<path fill="#339900" d="M330 476h1V499h-1zM329 476h4V493h-4z"/>
<path fill="#339900" d="M335 479h1V488h-1zM334 479h4V485h-4z"/>
<path fill="#cc0000" d="M340 486h1V497h-1zM339 492h4V493h-4z"/>
<path fill="#339900" d="M345 469h1V489h-1zM344 469h4V488h-4z"/>
<path fill="#339900" d="M350 458h1V468h-1zM349 467h4V468h-4z"/>
<path fill="#339900" d="M355 451h1V473h-1zM354 457h4V473h-4z"/>
<path fill="#339900" d="M360 437h1V455h-1zM359 443h4V448h-4z"/>
<path fill="#cc0000" d="M365 452h1V478h-1zM364 452h4V471h-4z"/>
<path fill="#cc0000" d="M370 458h1V483h-1zM369 461h4V470h-4z"/>
<path fill="#339900" d="M375 458h1V468h-1zM374 459h4V466h-4z"/>
<path fill="#339900" d="M380 439h1V453h-1zM379 441h4V449h-4z"/>
<path fill="#339900" d="M385 457h1V467h-1zM384 457h4V460h-4z"/>
<path fill="#cc0000" d="M390 455h1V471h-1zM389 456h4V469h-4z"/>
<path fill="#339900" d="M395 434h1V461h-1zM394 438h4V457h-4z"/>
<path fill="#339900" d="M400 414h1V434h-1zM399 418h4V434h-4z"/>
<path fill="#339900" d="M405 416h1V427h-1zM404 422h4V424h-4z"/>
<path fill="#339900" d="M410 405h1V422h-1zM409 405h4V422h-4z"/>
<path fill="#339900" d="M415 393h1V405h-1zM414 395h4V405h-4z"/>
<path fill="#cc0000" d="M420 393h1V405h-1zM419 395h4V401h-4z"/>
<path fill="#cc0000" d="M425 407h1V425h-1zM424 411h4V418h-4z"/>
<path fill="#339900" d="M430 415h1V430h-1zM429 415h4V429h-4z"/>
<path fill="#cc0000" d="M435 407h1V417h-1zM434 409h4V414h-4z"/>
<path fill="#339900" d="M440 392h1V406h-1zM439 392h4V404h-4z"/>
<path fill="#cc0000" d="M445 384h1V393h-1zM444 388h4V392h-4z"/>
<path fill="#339900" d="M450 385h1V400h-1zM449 390h4V397h-4z"/>
<path fill="#339900" d="M455 381h1V387h-1zM454 382h4V383h-4z"/>
<path fill="#339900" d="M460 374h1V386h-1zM459 378h4V386h-4z"/>
<path fill="#cc0000" d="M465 373h1V385h-1zM464 377h4V378h-4z"/>
<path fill="#cc0000" d="M470 378h1V389h-1zM469 380h4V383h-4z"/>
<path fill="#339900" d="M475 370h1V380h-1zM474 370h4V380h-4z"/>
<path fill="#cc0000" d="M480 355h1V366h-1zM479 358h4V366h-4z"/>
<path fill="#339900" d="M485 362h1V371h-1zM484 366h4V369h-4z"/>
<path fill="#339900" d="M490 363h1V376h-1zM489 365h4V371h-4z"/>
<path fill="#cc0000" d="M495 363h1V373h-1zM494 369h4V370h-4z"/>
<path fill="#339900" d="M500 355h1V368h-1zM499 356h4V359h-4z"/>
<path fill="#cc0000" d="M505 347h1V376h-1zM504 348h4V361h-4z"/>
<path fill="#cc0000" d="M510 356h1V367h-1zM509 359h4V361h-4z"/>
<path fill="#cc0000" d="M515 360h1V376h-1zM514 360h4V375h-4z"/>
<path fill="#cc0000" d="M520 377h1V396h-1zM519 378h4V392h-4z"/>
<path fill="#339900" d="M525 393h1V409h-1zM524 393h4V409h-4z"/>
<path fill="#339900" d="M530 364h1V388h-1zM529 364h4V388h-4z"/>
<path fill="#339900" d="M535 353h1V364h-1zM534 357h4V362h-4z"/>
<path fill="#339900" d="M540 340h1V353h-1zM539 347h4V352h-4z"/>
<path fill="#cc0000" d="M545 345h1V351h-1zM544 347h4V350h-4z"/>
<path fill="#339900" d="M550 333h1V346h-1zM549 338h4V345h-4z"/>
<path fill="#339900" d="M555 328h1V341h-1zM554 333h4V338h-4z"/>
<path fill="#cc0000" d="M560 323h1V336h-1zM559 327h4V332h-4z"/>
<path fill="#339900" d="M565 320h1V342h-1zM564 330h4V333h-4z"/>
<path fill="#339900" d="M570 306h1V336h-1zM569 309h4V336h-4z"/>
<path fill="#cc0000" d="M575 313h1V348h-1zM574 316h4V348h-4z"/>
<path fill="#339900" d="M580 343h1V361h-1zM579 348h4V353h-4z"/>
<path fill="#cc0000" d="M585 328h1V346h-1zM584 336h4V338h-4z"/>
<path fill="#cc0000" d="M590 333h1V360h-1zM589 335h4V348h-4z"/>
<path fill="#339900" d="M595 339h1V353h-1zM594 342h4V345h-4z"/>
<path fill="#339900" d="M600 329h1V339h-1zM599 330h4V332h-4z"/>
<path fill="#339900" d="M605 310h1V322h-1zM604 311h4V317h-4z"/>
<path fill="#339900" d="M611 305h1V314h-1zM610 307h4V312h-4z"/>
<path fill="#339900" d="M616 289h1V303h-1zM615 297h4V299h-4z"/>
<path fill="#cc0000" d="M621 293h1V308h-1zM620 298h4V299h-4z"/>
<path fill="#339900" d="M626 289h1V295h-1zM625 289h4V295h-4z"/>
<path fill="#339900" d="M631 286h1V299h-1zM630 286h4V293h-4z"/>
<path fill="#cc0000" d="M636 289h1V298h-1zM635 292h4V296h-4z"/>
<path fill="#339900" d="M641 284h1V293h-1zM640 284h4V293h-4z"/>
<path fill="#cc0000" d="M646 282h1V291h-1zM645 282h4V288h-4z"/>
<path fill="#339900" d="M651 278h1V287h-1zM650 280h4V281h-4z"/>
<path fill="#cc0000" d="M656 278h1V290h-1zM655 279h4V283h-4z"/>
<path fill="#cc0000" d="M661 273h1V282h-1zM660 276h4V277h-4z"/>
<path fill="#cc0000" d="M666 267h1V283h-1zM665 268h4V279h-4z"/>
<path fill="#cc0000" d="M671 276h1V287h-1zM670 277h4V278h-4z"/>
<path fill="#339900" d="M676 273h1V285h-1zM675 274h4V284h-4z"/>
<path fill="#339900" d="M681 251h1V273h-1zM680 253h4V273h-4z"/>
<path fill="#cc0000" d="M686 249h1V258h-1zM685 253h4V258h-4z"/>
<path fill="#cc0000" d="M691 247h1V263h-1zM690 247h4V254h-4z"/>
<path fill="#339900" d="M696 248h1V266h-1zM695 248h4V258h-4z"/>
<path fill="#339900" d="M701 242h1V251h-1zM700 245h4V249h-4z"/>
<path fill="#cc0000" d="M706 252h1V268h-1zM705 256h4V259h-4z"/>
<path fill="#cc0000" d="M711 248h1V268h-1zM710 251h4V268h-4z"/>
<path fill="#cc0000" d="M716 258h1V282h-1zM715 268h4V271h-4z"/>
<path fill="#339900" d="M721 244h1V260h-1zM720 245h4V260h-4z"/>
<path fill="#339900" d="M726 250h1V281h-1zM725 253h4V281h-4z"/>
<path fill="#cc0000" d="M731 263h1V297h-1zM730 268h4V285h-4z"/>
<path fill="#cc0000" d="M736 276h1V293h-1zM735 287h4V289h-4z"/>
<path fill="#339900" d="M741 291h1V317h-1zM740 294h4V307h-4z"/>
<path fill="#339900" d="M746 287h1V324h-1zM745 293h4V301h-4z"/>
<path fill="#cc0000" d="M751 324h1V351h-1zM750 332h4V347h-4z"/>
<path fill="#339900" d="M756 321h1V343h-1zM755 329h4V339h-4z"/>
<path fill="#339900" d="M761 309h1V340h-1zM760 312h4V340h-4z"/>
<path fill="#339900" d="M766 287h1V311h-1zM765 297h4V311h-4z"/>
<path fill="#cc0000" d="M771 293h1V314h-1zM770 310h4V314h-4z"/>
<path fill="#cc0000" d="M776 327h1V341h-1zM775 333h4V336h-4z"/>
<path fill="#339900" d="M781 315h1V326h-1zM780 319h4V324h-4z"/>
<path fill="#339900" d="M786 319h1V329h-1zM785 325h4V326h-4z"/>
<path fill="#cc0000" d="M791 344h1V358h-1zM790 344h4V351h-4z"/>
<path fill="#cc0000" d="M796 337h1V349h-1zM795 340h4V349h-4z"/>
<path fill="#cc0000" d="M801 337h1V356h-1zM800 345h4V355h-4z"/>
<path fill="#cc0000" d="M806 359h1V375h-1zM805 365h4V366h-4z"/>
<path fill="#339900" d="M811 356h1V370h-1zM810 362h4V363h-4z"/>
<path fill="#cc0000" d="M816 374h1V386h-1zM815 381h4V385h-4z"/>
<path fill="#cc0000" d="M821 384h1V417h-1zM820 387h4V409h-4z"/>
<path fill="#339900" d="M826 370h1V399h-1zM825 370h4V393h-4z"/>
<path fill="#cc0000" d="M831 358h1V376h-1zM830 358h4V361h-4z"/>
<path fill="#339900" d="M836 349h1V366h-1zM835 352h4V360h-4z"/>
<path fill="#339900" d="M841 324h1V346h-1zM840 328h4V346h-4z"/>
<path fill="#339900" d="M846 297h1V317h-1zM845 312h4V317h-4z"/>
<path fill="#cc0000" d="M851 296h1V316h-1zM850 296h4V313h-4z"/>
<path fill="#cc0000" d="M856 313h1V321h-1zM855 316h4V319h-4z"/>
<path fill="#339900" d="M861 307h1V315h-1zM860 309h4V313h-4z"/>
<path fill="#cc0000" d="M866 312h1V321h-1zM865 315h4V318h-4z"/>
<path fill="#339900" d="M871 303h1V315h-1zM870 307h4V313h-4z"/>
<path fill="#339900" d="M876 276h1V294h-1zM875 286h4V293h-4z"/>
<path fill="#339900" d="M881 277h1V291h-1zM880 279h4V284h-4z"/>
<path fill="#cc0000" d="M886 259h1V277h-1zM885 260h4V268h-4z"/>
<path fill="#339900" d="M891 263h1V276h-1zM890 271h4V272h-4z"/>
<path fill="#cc0000" d="M896 267h1V278h-1zM895 269h4V277h-4z"/>
<path fill="#cc0000" d="M901 276h1V301h-1zM900 276h4V301h-4z"/>
<path fill="#cc0000" d="M906 283h1V296h-1zM905 291h4V296h-4z"/>
<path fill="#339900" d="M912 281h1V291h-1zM911 283h4V290h-4z"/>
<path fill="#339900" d="M917 275h1V284h-1zM916 276h4V280h-4z"/>
<path fill="#cc0000" d="M922 247h1V265h-1zM921 248h4V259h-4z"/>
<path fill="#339900" d="M927 255h1V264h-1zM926 255h4V261h-4z"/>
<path fill="#339900" d="M932 243h1V254h-1zM931 243h4V252h-4z"/>
<path fill="#339900" d="M937 243h1V259h-1zM936 245h4V254h-4z"/>
<path fill="#cc0000" d="M942 255h1V262h-1zM941 255h4V258h-4z"/>
<path fill="#339900" d="M947 248h1V267h-1zM946 249h4V266h-4z"/>
<path fill="#339900" d="M952 232h1V245h-1zM951 237h4V242h-4z"/>
<path fill="#cc0000" d="M957 232h1V244h-1zM956 234h4V239h-4z"/>
<path fill="#339900" d="M962 228h1V238h-1zM961 229h4V237h-4z"/>
<path fill="#cc0000" d="M967 225h1V231h-1zM966 225h4V227h-4z"/>
<path fill="#cc0000" d="M972 226h1V237h-1zM971 227h4V234h-4z"/>
<path fill="#cc0000" d="M977 231h1V241h-1zM976 233h4V240h-4z"/>
<path fill="#339900" d="M982 234h1V251h-1zM981 236h4V248h-4z"/>
<path fill="#cc0000" d="M987 228h1V249h-1zM986 229h4V249h-4z"/>
<path fill="#339900" d="M992 234h1V244h-1zM991 237h4V244h-4z"/>
<path fill="#339900" d="M997 227h1V240h-1zM996 227h4V230h-4z"/>
<path fill="#339900" d="M1002 214h1V234h-1zM1001 214h4V234h-4z"/>
<path fill="#cc0000" d="M1007 219h1V231h-1zM1006 219h4V231h-4z"/>
<path fill="#339900" d="M1012 211h1V221h-1zM1011 212h4V220h-4z"/>
<path fill="#cc0000" d="M1017 213h1V229h-1zM1016 213h4V220h-4z"/>
<path fill="#339900" d="M1022 219h1V233h-1zM1021 223h4V232h-4z"/>
<path fill="#cc0000" d="M1027 218h1V256h-1zM1026 220h4V243h-4z"/>
<path fill="#cc0000" d="M1032 216h1V262h-1zM1031 239h4V256h-4z"/>
<path fill="#cc0000" d="M1037 263h1V287h-1zM1036 266h4V277h-4z"/>
<path fill="#cc0000" d="M1042 309h1V343h-1zM1041 312h4V332h-4z"/>
<path fill="#339900" d="M1047 307h1V329h-1zM1046 310h4V316h-4z"/>
<path fill="#339900" d="M1052 300h1V336h-1zM1051 304h4V327h-4z"/>
<path fill="#339900" d="M1057 269h1V298h-1zM1056 269h4V293h-4z"/>
<path fill="#cc0000" d="M1062 273h1V295h-1zM1061 277h4V286h-4z"/>
<path fill="#cc0000" d="M1067 292h1V310h-1zM1066 295h4V305h-4z"/>
<path fill="#339900" d="M1072 264h1V307h-1zM1071 274h4V307h-4z"/>
<path fill="#cc0000" d="M1077 297h1V325h-1zM1076 301h4V322h-4z"/>
<path fill="#cc0000" d="M1082 315h1V334h-1zM1081 318h4V324h-4z"/>
<path fill="#339900" d="M1087 295h1V312h-1zM1086 297h4V312h-4z"/>
<path fill="#cc0000" d="M1092 272h1V283h-1zM1091 276h4V277h-4z"/>
<path fill="#cc0000" d="M1097 275h1V288h-1zM1096 279h4V288h-4z"/>
<path fill="#339900" d="M1102 270h1V278h-1zM1101 273h4V274h-4z"/>
<path fill="#cc0000" d="M1107 268h1V290h-1zM1106 269h4V280h-4z"/>
<path fill="#cc0000" d="M1112 276h1V331h-1zM1111 288h4V327h-4z"/>
<path fill="#339900" d="M1117 306h1V319h-1zM1116 306h4V311h-4z"/>
<path fill="#cc0000" d="M1122 293h1V318h-1zM1121 295h4V312h-4z"/>
<path fill="#339900" d="M1127 304h1V324h-1zM1126 305h4V318h-4z"/>
<path fill="#339900" d="M1132 278h1V292h-1zM1131 282h4V289h-4z"/>
<path fill="#cc0000" d="M1137 273h1V295h-1zM1136 274h4V285h-4z"/>
<path fill="#cc0000" d="M1142 289h1V308h-1zM1141 296h4V303h-4z"/>
<path fill="#339900" d="M1147 281h1V291h-1zM1146 281h4V288h-4z"/>
<path fill="#339900" d="M1152 250h1V266h-1zM1151 254h4V266h-4z"/>
<path fill="#cc0000" d="M1157 250h1V258h-1zM1156 252h4V258h-4z"/>
<path fill="#cc0000" d="M1162 251h1V268h-1zM1161 251h4V261h-4z"/>
<path fill="#339900" d="M1167 260h1V278h-1zM1166 260h4V268h-4z"/>
<path fill="#339900" d="M1172 243h1V261h-1zM1171 243h4V260h-4z"/>
<path fill="#cc0000" d="M1177 229h1V243h-1zM1176 236h4V240h-4z"/>
<path fill="#cc0000" d="M1182 235h1V244h-1zM1181 239h4V243h-4z"/>
<path fill="#339900" d="M1187 244h1V254h-1zM1186 247h4V254h-4z"/>
<path fill="#339900" d="M1192 240h1V249h-1zM1191 240h4V249h-4z"/>
<path fill="#339900" d="M1197 241h1V260h-1zM1196 242h4V243h-4z"/>
<path fill="#cc0000" d="M1202 230h1V243h-1zM1201 239h4V242h-4z"/>
<path fill="#cc0000" d="M1207 237h1V260h-1zM1206 240h4V255h-4z"/>
<path fill="#339900" d="M1213 250h1V260h-1zM1212 255h4V256h-4z"/>
<path fill="#cc0000" d="M1218 246h1V283h-1zM1217 248h4V279h-4z"/>
<path fill="#339900" d="M1223 258h1V291h-1zM1222 262h4V280h-4z"/>
<path fill="#cc0000" d="M1228 263h1V280h-1zM1227 263h4V272h-4z"/>
<path fill="#cc0000" d="M1233 268h1V299h-1zM1232 268h4V290h-4z"/>
<path fill="#339900" d="M1238 274h1V288h-1zM1237 277h4V285h-4z"/>
<path fill="#cc0000" d="M1243 265h1V296h-1zM1242 268h4V296h-4z"/>
<path fill="#cc0000" d="M1248 306h1V328h-1zM1247 306h4V320h-4z"/>
<path fill="#339900" d="M1253 302h1V336h-1zM1252 302h4V320h-4z"/>
<path fill="#339900" d="M1258 280h1V298h-1zM1257 280h4V296h-4z"/>
<path fill="#cc0000" d="M1263 274h1V289h-1zM1262 285h4V286h-4z"/>
</g>
<polyline points="10.0,287.2 15.0,291.8 20.0,300.8 25.0,313.6 30.0,326.7 35.0,338.8 40.0,346.2 45.0,354.4 50.0,361.2 55.0,368.5 60.0,373.7 65.0,379.8 70.0,385.9 75.0,386.0 80.0,392.5 85.0,400.0 90.0,409.5 95.0,416.0 100.0,416.9 105.0,418.7 110.0,421.5 115.0,422.7 120.0,413.5 125.0,409.4 130.0,404.8 135.0,401.8 140.0,401.0 145.0,404.5 150.0,407.9 155.0,410.1 160.0,416.0 165.0,425.2 170.0,437.1 175.0,448.6 180.0,455.0 185.0,457.1 190.0,455.2 195.0,452.5 200.0,451.2 205.0,447.4 210.0,444.9 215.0,439.4 220.0,439.5 225.0,437.9 230.0,438.9 235.0,438.7 240.0,443.2 245.0,450.3 250.0,461.7 255.0,474.7 260.0,485.0 265.0,497.9 270.0,510.4 275.0,526.7 280.0,536.0 285.0,546.2 290.0,555.7 295.0,561.0 300.0,562.7 305.0,569.0 311.0,566.9 316.0,561.0 321.0,549.8 326.0,534.8 331.0,526.3 336.0,518.6 341.0,512.3 346.0,504.6 351.0,497.3 356.0,485.0 361.0,476.9 366.0,473.1 371.0,470.7 376.0,468.4 381.0,464.9 386.0,462.7 391.0,460.3 396.0,457.2 401.0,452.3 406.0,448.8 411.0,445.0 416.0,437.5 421.0,430.6 426.0,426.4 431.0,423.8 436.0,419.5 441.0,411.8 446.0,407.2 451.0,404.4 456.0,400.3 461.0,397.6 466.0,395.9 471.0,394.2 476.0,389.4 481.0,384.5 486.0,379.7 491.0,377.0 496.0,374.8 501.0,371.4 506.0,369.3 511.0,367.6 516.0,367.3 521.0,368.1 526.0,370.4 531.0,370.2 536.0,369.3 541.0,367.5 546.0,365.5 551.0,363.7 556.0,361.0 561.0,358.1 566.0,353.6 571.0,345.3 576.0,340.8 581.0,339.2 586.0,337.3 591.0,337.4 596.0,336.6 601.0,335.8 606.0,333.7 612.0,331.1 617.0,327.9 622.0,326.8 627.0,321.0 632.0,314.8 637.0,310.6 642.0,304.2 647.0,298.8 652.0,293.7 657.0,290.9 662.0,288.0 667.0,286.1 672.0,284.0 677.0,282.5 682.0,279.2 687.0,275.4 692.0,272.3 697.0,268.3 702.0,264.9 707.0,262.5 712.0,261.5 717.0,260.8 722.0,257.4 727.0,255.3 732.0,258.6 737.0,261.6 742.0,265.6 747.0,270.1 752.0,280.3 757.0,287.3 762.0,291.7 767.0,294.3 772.0,301.2 777.0,309.5 782.0,312.9 787.0,316.5 792.0,322.3 797.0,327.9 802.0,328.7 807.0,332.4 812.0,337.4 817.0,346.3 822.0,355.7 827.0,359.2 832.0,363.4 837.0,366.0 842.0,363.8 847.0,360.1 852.0,355.8 857.0,351.0 862.0,345.8 867.0,339.0 872.0,328.8 877.0,320.4 882.0,312.2 887.0,303.8 892.0,298.1 897.0,294.5 902.0,293.4 907.0,291.1 913.0,288.5 918.0,284.3 923.0,279.6 928.0,276.5 933.0,272.9 938.0,270.6 943.0,269.3 948.0,266.6 953.0,260.2 958.0,254.5 963.0,249.1 968.0,244.2 973.0,241.6 978.0,240.1 983.0,239.4 988.0,239.8 993.0,237.7 998.0,235.6 1003.0,233.3 1008.0,232.5 1013.0,230.8 1018.0,230.0 1023.0,229.0 1028.0,229.2 1033.0,231.2 1038.0,234.0 1043.0,243.4 1048.0,251.7 1053.0,260.6 1058.0,264.5 1063.0,271.8 1068.0,280.4 1073.0,285.5 1078.0,293.4 1083.0,300.1 1088.0,302.2 1093.0,296.7 1098.0,294.5 1103.0,291.4 1108.0,292.5 1113.0,296.6 1118.0,296.7 1123.0,300.5 1128.0,298.8 1133.0,294.6 1138.0,293.4 1143.0,295.9 1148.0,295.3 1153.0,293.4 1158.0,291.2 1163.0,284.6 1168.0,280.0 1173.0,273.2 1178.0,266.7 1183.0,262.7 1188.0,259.0 1193.0,252.8 1198.0,248.9 1203.0,247.7 1208.0,247.4 1214.0,246.8 1219.0,248.6 1224.0,250.5 1229.0,253.7 1234.0,258.3 1239.0,261.3 1244.0,266.9 1249.0,274.7 1254.0,280.6 1259.0,283.2 1264.0,286.3" fill="none" stroke="#4f9e28" stroke-width="1.0" stroke-linejoin="round"/>
<ellipse cx="1263.6" cy="783.8" rx="60.2" ry="52.8" fill="none" stroke="#ed1c24" stroke-width="1"/>
<g shape-rendering="crispEdges">
<rect x="7" y="796" width="3" height="17" fill="#ff0000"/>
<rect x="12" y="796" width="3" height="19" fill="#ff0000"/>
<rect x="17" y="796" width="3" height="30" fill="#ff0000"/>
<rect x="22" y="796" width="3" height="38" fill="#ff0000"/>
<rect x="27" y="796" width="3" height="36" fill="#800000"/>
<rect x="32" y="796" width="3" height="34" fill="#800000"/>
<rect x="37" y="796" width="3" height="24" fill="#800000"/>
<rect x="42" y="796" width="3" height="16" fill="#800000"/>
<rect x="47" y="796" width="3" height="15" fill="#800000"/>
<rect x="52" y="796" width="3" height="15" fill="#800000"/>
<rect x="57" y="796" width="3" height="12" fill="#800000"/>
<rect x="62" y="796" width="3" height="11" fill="#800000"/>
<rect x="67" y="796" width="3" height="20" fill="#ff0000"/>
<rect x="72" y="796" width="3" height="17" fill="#800000"/>
<rect x="77" y="796" width="3" height="19" fill="#ff0000"/>
<rect x="82" y="796" width="3" height="22" fill="#ff0000"/>
<rect x="87" y="796" width="3" height="19" fill="#800000"/>
<rect x="92" y="796" width="3" height="10" fill="#800000"/>
<rect x="97" y="795" width="3" height="1" fill="#00ff00"/>
<rect x="102" y="790" width="3" height="6" fill="#00ff00"/>
<rect x="107" y="787" width="3" height="9" fill="#00ff00"/>
<rect x="112" y="784" width="3" height="12" fill="#00ff00"/>
<rect x="117" y="775" width="3" height="21" fill="#00ff00"/>
<rect x="122" y="771" width="3" height="25" fill="#00ff00"/>
<rect x="127" y="774" width="3" height="22" fill="#006400"/>
<rect x="132" y="783" width="3" height="13" fill="#006400"/>
<rect x="137" y="789" width="3" height="7" fill="#006400"/>
<rect x="142" y="795" width="3" height="1" fill="#006400"/>
<rect x="147" y="794" width="3" height="2" fill="#00ff00"/>
<rect x="152" y="793" width="3" height="3" fill="#00ff00"/>
<rect x="157" y="796" width="3" height="4" fill="#ff0000"/>
<rect x="162" y="796" width="3" height="11" fill="#ff0000"/>
<rect x="167" y="796" width="3" height="13" fill="#ff0000"/>
<rect x="172" y="796" width="3" height="14" fill="#ff0000"/>
<rect x="177" y="796" width="3" height="8" fill="#800000"/>
<rect x="182" y="796" width="3" height="3" fill="#800000"/>
<rect x="187" y="789" width="3" height="7" fill="#00ff00"/>
<rect x="192" y="783" width="3" height="13" fill="#00ff00"/>
<rect x="197" y="777" width="3" height="19" fill="#00ff00"/>
<rect x="202" y="770" width="3" height="26" fill="#00ff00"/>
<rect x="207" y="776" width="3" height="20" fill="#006400"/>
<rect x="212" y="780" width="3" height="16" fill="#006400"/>
<rect x="217" y="790" width="3" height="6" fill="#006400"/>
<rect x="222" y="795" width="3" height="1" fill="#006400"/>
<rect x="227" y="796" width="3" height="1" fill="#ff0000"/>
<rect x="232" y="795" width="3" height="1" fill="#00ff00"/>
<rect x="237" y="795" width="3" height="1" fill="#00ff00"/>
<rect x="242" y="796" width="3" height="4" fill="#ff0000"/>
<rect x="247" y="796" width="3" height="12" fill="#ff0000"/>
<rect x="252" y="796" width="3" height="15" fill="#ff0000"/>
<rect x="257" y="796" width="3" height="21" fill="#ff0000"/>
<rect x="262" y="796" width="3" height="26" fill="#ff0000"/>
<rect x="267" y="796" width="3" height="34" fill="#ff0000"/>
<rect x="272" y="796" width="3" height="42" fill="#ff0000"/>
<rect x="277" y="796" width="3" height="31" fill="#800000"/>
<rect x="282" y="796" width="3" height="21" fill="#800000"/>
<rect x="287" y="796" width="3" height="13" fill="#800000"/>
<rect x="292" y="796" width="3" height="5" fill="#800000"/>
<rect x="297" y="793" width="3" height="3" fill="#00ff00"/>
<rect x="302" y="795" width="3" height="1" fill="#006400"/>
<rect x="308" y="786" width="3" height="10" fill="#00ff00"/>
<rect x="313" y="777" width="3" height="19" fill="#00ff00"/>
<rect x="318" y="769" width="3" height="27" fill="#00ff00"/>
<rect x="323" y="763" width="3" height="33" fill="#00ff00"/>
<rect x="328" y="759" width="3" height="37" fill="#00ff00"/>
<rect x="333" y="758" width="3" height="38" fill="#00ff00"/>
<rect x="338" y="762" width="3" height="34" fill="#006400"/>
<rect x="343" y="761" width="3" height="35" fill="#00ff00"/>
<rect x="348" y="762" width="3" height="34" fill="#006400"/>
<rect x="353" y="763" width="3" height="33" fill="#006400"/>
<rect x="358" y="762" width="3" height="34" fill="#00ff00"/>
<rect x="363" y="768" width="3" height="28" fill="#006400"/>
<rect x="368" y="773" width="3" height="23" fill="#006400"/>
<rect x="373" y="776" width="3" height="20" fill="#006400"/>
<rect x="378" y="776" width="3" height="20" fill="#00ff00"/>
<rect x="383" y="779" width="3" height="17" fill="#006400"/>
<rect x="388" y="785" width="3" height="11" fill="#006400"/>
<rect x="393" y="783" width="3" height="13" fill="#00ff00"/>
<rect x="398" y="780" width="3" height="16" fill="#00ff00"/>
<rect x="403" y="780" width="3" height="16" fill="#00ff00"/>
<rect x="408" y="778" width="3" height="18" fill="#00ff00"/>
<rect x="413" y="776" width="3" height="20" fill="#00ff00"/>
<rect x="418" y="778" width="3" height="18" fill="#006400"/>
<rect x="423" y="783" width="3" height="13" fill="#006400"/>
<rect x="428" y="787" width="3" height="9" fill="#006400"/>
<rect x="433" y="790" width="3" height="6" fill="#006400"/>
<rect x="438" y="789" width="3" height="7" fill="#00ff00"/>
<rect x="443" y="789" width="3" height="7" fill="#006400"/>
<rect x="448" y="790" width="3" height="6" fill="#006400"/>
<rect x="453" y="790" width="3" height="6" fill="#00ff00"/>
<rect x="458" y="790" width="3" height="6" fill="#006400"/>
<rect x="463" y="791" width="3" height="5" fill="#006400"/>
<rect x="468" y="793" width="3" height="3" fill="#006400"/>
<rect x="473" y="793" width="3" height="3" fill="#00ff00"/>
<rect x="478" y="793" width="3" height="3" fill="#00ff00"/>
<rect x="483" y="794" width="3" height="2" fill="#006400"/>
<rect x="488" y="795" width="3" height="1" fill="#006400"/>
<rect x="493" y="796" width="3" height="1" fill="#ff0000"/>
<rect x="498" y="796" width="3" height="1" fill="#800000"/>
<rect x="503" y="796" width="3" height="1" fill="#ff0000"/>
<rect x="508" y="796" width="3" height="3" fill="#ff0000"/>
<rect x="513" y="796" width="3" height="6" fill="#ff0000"/>
<rect x="518" y="796" width="3" height="12" fill="#ff0000"/>
<rect x="523" y="796" width="3" height="15" fill="#ff0000"/>
<rect x="528" y="796" width="3" height="12" fill="#800000"/>
<rect x="533" y="796" width="3" height="9" fill="#800000"/>
<rect x="538" y="796" width="3" height="5" fill="#800000"/>
<rect x="543" y="796" width="3" height="3" fill="#800000"/>
<rect x="548" y="796" width="3" height="1" fill="#800000"/>
<rect x="553" y="794" width="3" height="2" fill="#00ff00"/>
<rect x="558" y="793" width="3" height="3" fill="#00ff00"/>
<rect x="563" y="793" width="3" height="3" fill="#00ff00"/>
<rect x="568" y="790" width="3" height="6" fill="#00ff00"/>
<rect x="573" y="795" width="3" height="1" fill="#006400"/>
<rect x="578" y="796" width="3" height="3" fill="#ff0000"/>
<rect x="583" y="796" width="3" height="4" fill="#ff0000"/>
<rect x="588" y="796" width="3" height="7" fill="#ff0000"/>
<rect x="593" y="796" width="3" height="7" fill="#ff0000"/>
<rect x="598" y="796" width="3" height="6" fill="#800000"/>
<rect x="603" y="796" width="3" height="2" fill="#800000"/>
<rect x="609" y="795" width="3" height="1" fill="#00ff00"/>
<rect x="614" y="792" width="3" height="4" fill="#00ff00"/>
<rect x="619" y="791" width="3" height="5" fill="#00ff00"/>
<rect x="624" y="789" width="3" height="7" fill="#00ff00"/>
<rect x="629" y="788" width="3" height="8" fill="#00ff00"/>
<rect x="634" y="791" width="3" height="5" fill="#006400"/>
<rect x="639" y="791" width="3" height="5" fill="#006400"/>
<rect x="644" y="792" width="3" height="4" fill="#006400"/>
<rect x="649" y="792" width="3" height="4" fill="#006400"/>
<rect x="654" y="794" width="3" height="2" fill="#006400"/>
<rect x="659" y="794" width="3" height="2" fill="#006400"/>
<rect x="664" y="795" width="3" height="1" fill="#006400"/>
<rect x="669" y="796" width="3" height="1" fill="#ff0000"/>
<rect x="674" y="796" width="3" height="1" fill="#ff0000"/>
<rect x="679" y="794" width="3" height="2" fill="#00ff00"/>
<rect x="684" y="794" width="3" height="2" fill="#00ff00"/>
<rect x="689" y="794" width="3" height="2" fill="#00ff00"/>
<rect x="694" y="793" width="3" height="3" fill="#00ff00"/>
<rect x="699" y="793" width="3" height="3" fill="#00ff00"/>
<rect x="704" y="796" width="3" height="1" fill="#ff0000"/>
<rect x="709" y="796" width="3" height="4" fill="#ff0000"/>
<rect x="714" y="796" width="3" height="7" fill="#ff0000"/>
<rect x="719" y="796" width="3" height="5" fill="#800000"/>
<rect x="724" y="796" width="3" height="5" fill="#ff0000"/>
<rect x="729" y="796" width="3" height="11" fill="#ff0000"/>
<rect x="734" y="796" width="3" height="15" fill="#ff0000"/>
<rect x="739" y="796" width="3" height="18" fill="#ff0000"/>
<rect x="744" y="796" width="3" height="20" fill="#ff0000"/>
<rect x="749" y="796" width="3" height="29" fill="#ff0000"/>
<rect x="754" y="796" width="3" height="30" fill="#ff0000"/>
<rect x="759" y="796" width="3" height="27" fill="#800000"/>
<rect x="764" y="796" width="3" height="21" fill="#800000"/>
<rect x="769" y="796" width="3" height="19" fill="#800000"/>
<rect x="774" y="796" width="3" height="21" fill="#ff0000"/>
<rect x="779" y="796" width="3" height="18" fill="#800000"/>
<rect x="784" y="796" width="3" height="16" fill="#800000"/>
<rect x="789" y="796" width="3" height="19" fill="#ff0000"/>
<rect x="794" y="796" width="3" height="19" fill="#ff0000"/>
<rect x="799" y="796" width="3" height="19" fill="#800000"/>
<rect x="804" y="796" width="3" height="19" fill="#ff0000"/>
<rect x="809" y="796" width="3" height="18" fill="#800000"/>
<rect x="814" y="796" width="3" height="20" fill="#ff0000"/>
<rect x="819" y="796" width="3" height="23" fill="#ff0000"/>
<rect x="824" y="796" width="3" height="18" fill="#800000"/>
<rect x="829" y="796" width="3" height="11" fill="#800000"/>
<rect x="834" y="796" width="3" height="4" fill="#800000"/>
<rect x="839" y="791" width="3" height="5" fill="#00ff00"/>
<rect x="844" y="783" width="3" height="13" fill="#00ff00"/>
<rect x="849" y="778" width="3" height="18" fill="#00ff00"/>
<rect x="854" y="776" width="3" height="20" fill="#00ff00"/>
<rect x="859" y="774" width="3" height="22" fill="#00ff00"/>
<rect x="864" y="776" width="3" height="20" fill="#006400"/>
<rect x="869" y="775" width="3" height="21" fill="#00ff00"/>
<rect x="874" y="772" width="3" height="24" fill="#00ff00"/>
<rect x="879" y="771" width="3" height="25" fill="#00ff00"/>
<rect x="884" y="769" width="3" height="27" fill="#00ff00"/>
<rect x="889" y="769" width="3" height="27" fill="#006400"/>
<rect x="894" y="772" width="3" height="24" fill="#006400"/>
<rect x="899" y="780" width="3" height="16" fill="#006400"/>
<rect x="904" y="784" width="3" height="12" fill="#006400"/>
<rect x="910" y="786" width="3" height="10" fill="#006400"/>
<rect x="915" y="786" width="3" height="10" fill="#006400"/>
<rect x="920" y="785" width="3" height="11" fill="#00ff00"/>
<rect x="925" y="784" width="3" height="12" fill="#00ff00"/>
<rect x="930" y="782" width="3" height="14" fill="#00ff00"/>
<rect x="935" y="782" width="3" height="14" fill="#006400"/>
<rect x="940" y="785" width="3" height="11" fill="#006400"/>
<rect x="945" y="787" width="3" height="9" fill="#006400"/>
<rect x="950" y="787" width="3" height="9" fill="#00ff00"/>
<rect x="955" y="788" width="3" height="8" fill="#006400"/>
<rect x="960" y="788" width="3" height="8" fill="#00ff00"/>
<rect x="965" y="788" width="3" height="8" fill="#006400"/>
<rect x="970" y="790" width="3" height="6" fill="#006400"/>
<rect x="975" y="794" width="3" height="2" fill="#006400"/>
<rect x="980" y="795" width="3" height="1" fill="#006400"/>
<rect x="985" y="796" width="3" height="3" fill="#ff0000"/>
<rect x="990" y="796" width="3" height="4" fill="#ff0000"/>
<rect x="995" y="796" width="3" height="3" fill="#800000"/>
<rect x="1000" y="796" width="3" height="1" fill="#800000"/>
<rect x="1005" y="796" width="3" height="2" fill="#ff0000"/>
<rect x="1010" y="796" width="3" height="1" fill="#800000"/>
<rect x="1015" y="796" width="3" height="1" fill="#ff0000"/>
<rect x="1020" y="796" width="3" height="2" fill="#ff0000"/>
<rect x="1025" y="796" width="3" height="7" fill="#ff0000"/>
<rect x="1030" y="796" width="3" height="12" fill="#ff0000"/>
<rect x="1035" y="796" width="3" height="18" fill="#ff0000"/>
<rect x="1040" y="796" width="3" height="31" fill="#ff0000"/>
<rect x="1045" y="796" width="3" height="34" fill="#ff0000"/>
<rect x="1050" y="796" width="3" height="33" fill="#800000"/>
<rect x="1055" y="796" width="3" height="25" fill="#800000"/>
<rect x="1060" y="796" width="3" height="22" fill="#800000"/>
<rect x="1065" y="796" width="3" height="22" fill="#800000"/>
<rect x="1070" y="796" width="3" height="15" fill="#800000"/>
<rect x="1075" y="796" width="3" height="19" fill="#ff0000"/>
<rect x="1080" y="796" width="3" height="20" fill="#ff0000"/>
<rect x="1085" y="796" width="3" height="15" fill="#800000"/>
<rect x="1090" y="796" width="3" height="7" fill="#800000"/>
<rect x="1095" y="796" width="3" height="4" fill="#800000"/>
<rect x="1100" y="795" width="3" height="1" fill="#00ff00"/>
<rect x="1105" y="793" width="3" height="3" fill="#00ff00"/>
<rect x="1110" y="796" width="3" height="3" fill="#ff0000"/>
<rect x="1115" y="796" width="3" height="3" fill="#ff0000"/>
<rect x="1120" y="796" width="3" height="4" fill="#ff0000"/>
<rect x="1125" y="796" width="3" height="3" fill="#800000"/>
<rect x="1130" y="794" width="3" height="2" fill="#00ff00"/>
<rect x="1135" y="791" width="3" height="5" fill="#00ff00"/>
<rect x="1140" y="792" width="3" height="4" fill="#006400"/>
<rect x="1145" y="790" width="3" height="6" fill="#00ff00"/>
<rect x="1150" y="783" width="3" height="13" fill="#00ff00"/>
<rect x="1155" y="780" width="3" height="16" fill="#00ff00"/>
<rect x="1160" y="780" width="3" height="16" fill="#00ff00"/>
<rect x="1165" y="780" width="3" height="16" fill="#006400"/>
<rect x="1170" y="778" width="3" height="18" fill="#00ff00"/>
<rect x="1175" y="777" width="3" height="19" fill="#00ff00"/>
<rect x="1180" y="778" width="3" height="18" fill="#006400"/>
<rect x="1185" y="781" width="3" height="15" fill="#006400"/>
<rect x="1190" y="782" width="3" height="14" fill="#006400"/>
<rect x="1195" y="784" width="3" height="12" fill="#006400"/>
<rect x="1200" y="786" width="3" height="10" fill="#006400"/>
<rect x="1205" y="790" width="3" height="6" fill="#006400"/>
<rect x="1211" y="793" width="3" height="3" fill="#006400"/>
<rect x="1216" y="796" width="3" height="3" fill="#ff0000"/>
<rect x="1221" y="796" width="3" height="5" fill="#ff0000"/>
<rect x="1226" y="796" width="3" height="7" fill="#ff0000"/>
<rect x="1231" y="796" width="3" height="11" fill="#ff0000"/>
<rect x="1236" y="796" width="3" height="11" fill="#ff0000"/>
<rect x="1241" y="796" width="3" height="14" fill="#ff0000"/>
<rect x="1246" y="796" width="3" height="19" fill="#ff0000"/>
<rect x="1251" y="796" width="3" height="19" fill="#800000"/>
<rect x="1256" y="796" width="3" height="13" fill="#800000"/>
<rect x="1261" y="796" width="3" height="10" fill="#800000"/>
<rect x="5" y="796" width="1801" height="1" fill="#7b00a6"/>
</g>
<polyline points="10.0,789.9 15.0,794.6 20.0,802.1 25.0,811.7 30.0,820.6 35.0,829.2 40.0,835.3 45.0,839.3 50.0,843.2 55.0,846.9 60.0,850.0 65.0,852.7 70.0,857.7 75.0,862.0 80.0,866.6 85.0,872.1 90.0,876.8 95.0,879.2 100.0,878.8 105.0,877.3 110.0,875.0 115.0,872.0 120.0,866.7 125.0,860.5 130.0,855.0 135.0,851.8 140.0,850.0 145.0,849.7 150.0,849.2 155.0,848.4 160.0,849.4 165.0,852.3 170.0,855.5 175.0,858.9 180.0,861.0 185.0,861.8 190.0,860.0 195.0,856.6 200.0,851.9 205.0,845.4 210.0,840.5 215.0,836.5 220.0,835.0 225.0,834.6 230.0,834.8 235.0,834.6 240.0,834.5 245.0,835.6 250.0,838.6 255.0,842.3 260.0,847.5 265.0,854.0 270.0,862.6 275.0,873.0 280.0,880.8 285.0,886.1 290.0,889.3 295.0,890.5 300.0,889.9 305.0,889.6 311.0,887.0 316.0,882.2 321.0,875.4 326.0,867.1 331.0,857.8 336.0,848.5 341.0,839.9 346.0,831.3 351.0,822.9 356.0,814.5 361.0,806.0 366.0,799.1 371.0,793.4 376.0,788.3 381.0,783.2 386.0,779.0 391.0,776.2 396.0,773.0 401.0,769.1 406.0,765.1 411.0,760.6 416.0,755.7 421.0,751.1 426.0,747.8 431.0,745.5 436.0,743.9 441.0,742.2 446.0,740.4 451.0,738.9 456.0,737.4 461.0,735.8 466.0,734.6 471.0,733.9 476.0,733.2 481.0,732.4 486.0,731.9 491.0,731.6 496.0,731.8 501.0,731.9 506.0,732.3 511.0,733.0 516.0,734.5 521.0,737.4 526.0,741.2 531.0,744.2 536.0,746.4 541.0,747.7 546.0,748.5 551.0,748.7 556.0,748.3 561.0,747.6 566.0,746.8 571.0,745.2 576.0,745.0 581.0,745.7 586.0,746.8 591.0,748.5 596.0,750.3 601.0,751.8 606.0,752.2 612.0,751.9 617.0,750.8 622.0,749.5 627.0,747.7 632.0,745.8 637.0,744.5 642.0,743.1 647.0,742.1 652.0,741.2 657.0,740.6 662.0,740.1 667.0,740.0 672.0,740.1 677.0,740.4 682.0,739.9 687.0,739.4 692.0,738.8 697.0,738.1 702.0,737.4 707.0,737.4 712.0,738.4 717.0,740.2 722.0,741.4 727.0,742.7 732.0,745.5 737.0,749.3 742.0,753.9 747.0,758.8 752.0,766.0 757.0,773.6 762.0,780.4 767.0,785.7 772.0,790.5 777.0,795.8 782.0,800.3 787.0,804.4 792.0,809.0 797.0,813.7 802.0,818.4 807.0,823.2 812.0,827.6 817.0,832.5 822.0,838.4 827.0,842.8 832.0,845.5 837.0,846.6 842.0,845.4 847.0,842.1 852.0,837.6 857.0,832.6 862.0,827.2 867.0,822.1 872.0,816.9 877.0,811.0 882.0,804.7 887.0,797.8 892.0,791.2 897.0,785.3 902.0,781.2 907.0,778.3 913.0,775.8 918.0,773.5 923.0,770.6 928.0,767.5 933.0,764.0 938.0,760.5 943.0,757.9 948.0,755.6 953.0,753.3 958.0,751.2 963.0,749.1 968.0,747.1 973.0,745.7 978.0,745.0 983.0,744.9 988.0,745.8 993.0,746.8 998.0,747.6 1003.0,747.8 1008.0,748.4 1013.0,748.4 1018.0,748.7 1023.0,749.2 1028.0,750.9 1033.0,753.9 1038.0,758.5 1043.0,766.3 1048.0,774.9 1053.0,783.2 1058.0,789.6 1063.0,795.1 1068.0,800.6 1073.0,804.4 1078.0,809.1 1083.0,814.1 1088.0,817.8 1093.0,819.7 1098.0,820.6 1103.0,820.3 1108.0,819.5 1113.0,820.3 1118.0,821.2 1123.0,822.2 1128.0,822.9 1133.0,822.4 1138.0,821.2 1143.0,820.3 1148.0,818.7 1153.0,815.5 1158.0,811.6 1163.0,807.6 1168.0,803.6 1173.0,799.1 1178.0,794.5 1183.0,790.0 1188.0,786.2 1193.0,782.6 1198.0,779.5 1203.0,777.0 1208.0,775.4 1214.0,774.7 1219.0,775.5 1224.0,776.6 1229.0,778.3 1234.0,781.1 1239.0,784.0 1244.0,787.5 1249.0,792.3 1254.0,797.0 1259.0,800.3 1264.0,802.9" fill="none" stroke="#b03a2e" stroke-width="1.0" stroke-linejoin="round"/>
<polyline points="10.0,806.7 15.0,813.3 20.0,831.9 25.0,850.0 30.0,856.5 35.0,863.7 40.0,859.5 45.0,855.6 50.0,858.5 55.0,861.7 60.0,862.5 65.0,863.7 70.0,877.7 75.0,878.8 80.0,885.1 85.0,894.2 90.0,895.4 95.0,888.9 100.0,877.5 105.0,870.9 110.0,866.2 115.0,859.6 120.0,845.5 125.0,835.8 130.0,832.9 135.0,838.9 140.0,843.1 145.0,848.6 150.0,846.9 155.0,845.5 160.0,853.3 165.0,863.6 170.0,868.4 175.0,872.7 180.0,869.1 185.0,865.2 190.0,852.7 195.0,843.2 200.0,832.8 205.0,819.6 210.0,821.0 215.0,820.4 220.0,829.1 225.0,833.2 230.0,835.4 235.0,834.0 240.0,833.8 245.0,839.9 250.0,850.7 255.0,857.4 260.0,868.0 265.0,880.1 270.0,896.9 275.0,914.6 280.0,911.9 285.0,907.4 290.0,902.4 295.0,895.3 300.0,887.2 305.0,888.5 311.0,876.7 316.0,862.9 321.0,848.4 326.0,833.8 331.0,820.8 336.0,810.9 341.0,805.9 346.0,796.8 351.0,789.1 356.0,781.2 361.0,772.1 366.0,771.2 371.0,770.6 376.0,768.2 381.0,762.8 386.0,762.2 391.0,764.7 396.0,760.4 401.0,753.2 406.0,749.1 411.0,742.6 416.0,736.0 421.0,732.8 426.0,734.5 431.0,736.1 436.0,737.8 441.0,735.1 446.0,733.6 451.0,732.9 456.0,731.1 461.0,729.7 466.0,729.4 471.0,731.1 476.0,730.3 481.0,729.5 486.0,729.7 491.0,730.4 496.0,732.7 501.0,732.3 506.0,733.8 511.0,735.6 516.0,740.8 521.0,749.1 526.0,756.4 531.0,756.3 536.0,755.2 541.0,752.8 546.0,751.9 551.0,749.2 556.0,746.6 561.0,744.9 566.0,743.7 571.0,738.9 576.0,744.1 581.0,748.7 586.0,750.9 591.0,755.1 596.0,757.7 601.0,757.6 606.0,754.0 612.0,750.6 617.0,746.5 622.0,744.1 627.0,740.8 632.0,738.3 637.0,739.0 642.0,737.7 647.0,738.1 652.0,737.4 657.0,738.2 662.0,738.3 667.0,739.3 672.0,740.6 677.0,741.4 682.0,738.2 687.0,737.4 692.0,736.5 697.0,735.3 702.0,734.4 707.0,737.4 712.0,742.3 717.0,747.4 722.0,746.4 727.0,747.9 732.0,756.6 737.0,764.6 742.0,772.2 747.0,778.3 752.0,794.8 757.0,804.0 762.0,807.4 767.0,806.8 772.0,809.9 777.0,816.8 782.0,818.4 787.0,820.7 792.0,827.7 797.0,832.4 802.0,837.0 807.0,842.6 812.0,845.4 817.0,852.1 822.0,861.8 827.0,860.4 832.0,856.5 837.0,850.9 842.0,840.8 847.0,828.9 852.0,819.3 857.0,812.9 862.0,805.6 867.0,801.7 872.0,796.2 877.0,787.4 882.0,779.2 887.0,770.6 892.0,764.7 897.0,761.7 902.0,764.9 907.0,766.8 913.0,765.8 918.0,763.9 923.0,759.3 928.0,755.1 933.0,749.8 938.0,746.6 943.0,747.3 948.0,746.6 953.0,744.0 958.0,742.9 963.0,740.7 968.0,739.1 973.0,739.9 978.0,742.5 983.0,744.4 988.0,749.2 993.0,751.0 998.0,750.9 1003.0,748.4 1008.0,750.6 1013.0,748.8 1018.0,749.6 1023.0,751.4 1028.0,757.6 1033.0,765.7 1038.0,776.9 1043.0,797.6 1048.0,809.2 1053.0,816.7 1058.0,815.0 1063.0,817.1 1068.0,822.5 1073.0,819.9 1078.0,827.8 1083.0,834.0 1088.0,832.8 1093.0,827.1 1098.0,824.5 1103.0,819.1 1108.0,816.1 1113.0,823.5 1118.0,824.6 1123.0,826.3 1128.0,825.9 1133.0,820.4 1138.0,816.3 1143.0,816.7 1148.0,812.2 1153.0,802.7 1158.0,796.0 1163.0,791.4 1168.0,787.7 1173.0,781.3 1178.0,775.8 1183.0,772.3 1188.0,770.8 1193.0,768.3 1198.0,767.2 1203.0,766.6 1208.0,769.2 1214.0,771.6 1219.0,778.8 1224.0,781.1 1229.0,785.2 1234.0,792.4 1239.0,795.3 1244.0,801.6 1249.0,811.6 1254.0,815.5 1259.0,813.6 1264.0,813.2" fill="none" stroke="#3a3a3a" stroke-width="1.0" stroke-linejoin="round"/>
<g font-size="15" fill="#1a1a1a">
<path d="M1011.5 178.5H1089.5a4.5 4.5 0 0 1 4.5 4.5V198a4.5 4.5 0 0 1 -4.5 4.5H1020L1012.5 210.5L1015.5 202.5H1011.5a4.5 4.5 0 0 1 -4.5 -4.5V183a4.5 4.5 0 0 1 4.5 -4.5z" fill="#dcdcdc" stroke="#a6a6a6"/>
<text x="1013" y="197.8" textLength="73.5" lengthAdjust="spacingAndGlyphs">Hi: 8339.64</text>
<path d="M275.5 641.5H279L274.5 633L284 641.5H354.5a4.5 4.5 0 0 1 4.5 4.5V661a4.5 4.5 0 0 1 -4.5 4.5H275.5a4.5 4.5 0 0 1 -4.5 -4.5V646a4.5 4.5 0 0 1 4.5 -4.5z" fill="#dcdcdc" stroke="#a6a6a6"/>
<text x="276.5" y="661" textLength="75.5" lengthAdjust="spacingAndGlyphs">Lo: 6190.17</text>
</g>
<g font-size="14.7">
<text x="8.3" y="146" fill="#111" font-weight="bold" font-size="15" textLength="94" lengthAdjust="spacingAndGlyphs">COMP 1 Y 1D</text>
<text x="112" y="146" fill="#2a2a2a">D: 10/7/19</text>
<text x="188" y="146" fill="#2a2a2a">O: 7956.41</text>
<text x="269" y="146" fill="#2a2a2a">H: 8013.31</text>
<text x="349" y="146" fill="#2a2a2a">L: 7942.08</text>
<text x="426" y="146" fill="#2a2a2a">C: 7956.29</text>
<text x="506" y="146" fill="#2a2a2a">R: 71.23</text>
<text x="570" y="146" fill="#1d4f9e">SimpleMovingAvg (CLOSE, 50, 0, no)</text>
<text x="827" y="146" fill="#1d4f9e">8000.84</text>
<text x="888" y="146" fill="#3c9a1e">SimpleMovingAvg (CLOSE, 10, 0, no)</text>
<text x="1145" y="146" fill="#3c9a1e">7954.56</text>
<text x="1206" y="146" fill="#2f2f2f">SimpleMovingAvg (CLOSE, 200, 0, no)</text>
<text x="1471" y="146" fill="#2f2f2f">7726.5</text>
<text x="8" y="715" fill="#2f2f2f">MACD (12, 26, 9, EXPONENTIAL, no)</text>
<text x="269" y="715" fill="#2f2f2f">-32.0624</text>
<text x="335" y="715" fill="#b03a2e">-12.1421</text>
<text x="401" y="715" fill="#8b1a1a">-19.9203</text>
<text x="467" y="715" fill="#7b00a6">0</text>
</g>
<g font-size="14.4" fill="#5a5a5a">
<text x="1813" y="676.1">6000</text>
<text x="1813" y="636.8">6200</text>
<text x="1813" y="597.4">6400</text>
<text x="1813" y="558.1">6600</text>
<text x="1813" y="518.7">6800</text>
<text x="1813" y="479.4">7000</text>
<text x="1813" y="440.1">7200</text>
<text x="1813" y="400.7">7400</text>
<text x="1813" y="361.4">7600</text>
<text x="1813" y="322.1">7800</text>
<text x="1813" y="282.7">8000</text>
<text x="1813" y="243.4">8200</text>
<text x="1813" y="204.0">8400</text>
<text x="1813" y="164.7">8600</text>
<text x="1813" y="749.2">100</text>
<text x="1813" y="801.9">0</text>
<text x="1813" y="854.6">-100</text>
<text x="1813" y="907.3">-200</text>
<text x="97" y="938">Nov</text>
<text x="202" y="938">Dec</text>
<text x="297" y="938">19</text>
<text x="403" y="938">Feb</text>
<text x="498" y="938">Mar</text>
<text x="603" y="938">Apr</text>
<text x="709" y="938">May</text>
<text x="819" y="938">Jun</text>
<text x="920" y="938">Jul</text>
<text x="1030" y="938">Aug</text>
<text x="1140" y="938">Sep</text>
<text x="1241" y="938">Oct</text>
<text x="1356" y="938">Nov</text>
<text x="1456" y="938">Dec</text>
<text x="1562" y="938">20</text>
<text x="1667" y="938">Feb</text>
<text x="1762" y="938">Mar</text>
</g>
<g font-size="14.5" fill="#fff">
<rect x="1813" y="275.3" width="59" height="17.4" rx="3.5" fill="#333"/><text x="1816.8" y="289.8">7956.29</text>
<rect x="1813" y="321.3" width="51" height="17.4" rx="3.5" fill="#333"/><text x="1816.8" y="335.8">7726.5</text>
<rect x="1813" y="803.2" width="56" height="17.5" rx="3.5" fill="#333"/><text x="1816.3" y="817.8">-32.062</text>
</g>

<g>
<rect x="1327.5" y="254.2" width="454" height="305" rx="19" ry="19" fill="none" stroke="#000" stroke-width="5"/>
<rect x="1424" y="170" width="248.5" height="108.3" fill="#fefefe"/>
<rect x="1432.3" y="180.3" width="233.3" height="89.1" fill="#fff" stroke="#000" stroke-width="3"/>
<rect x="1437.5" y="184.5" width="223" height="80.5" fill="none" stroke="#000" stroke-width="1"/>
<g fill="none" stroke-width="0.8">
<path d="M1537.5 215.5v-10l4 -2v10zM1541.5 213.5v-10l4.5 -2v10zM1546 211.5v-10l4 -2.5v10.5z" stroke="#5aa632"/>
<path d="M1556.5 198.5v10l4 2v-10zM1560.5 200.5v10l4.500 2v-10zM1565 202.500v10l4 2.5v-10.5z" stroke="#c83232"/>
</g>
<text x="1445.7" y="233.6" font-family="Liberation Serif, serif" font-weight="bold" font-size="15.5" textLength="197" lengthAdjust="spacingAndGlyphs" fill="#222">Fitzstock Charts</text>
<rect x="1486" y="236" width="118" height="2" fill="#000"/>
<text x="1477.5" y="253.5" font-family="DejaVu Sans, sans-serif" font-weight="bold" font-size="11.5" textLength="134" lengthAdjust="spacingAndGlyphs" fill="#111">www.fitzstock.com</text>
<g font-family="Liberation Serif, serif" font-weight="bold" font-size="24" fill="#000">
<text x="1354" y="306.7" textLength="291.6" lengthAdjust="spacingAndGlyphs">The Nasdaq closed again in</text>
<text x="1354" y="333.7" textLength="131.3" lengthAdjust="spacingAndGlyphs" font-weight="normal" font-size="22.5" fill="#e8842c" stroke="#e8842c" stroke-width="0.55">NOTREND</text>
<text x="1354" y="387.7" textLength="366" lengthAdjust="spacingAndGlyphs">Very hard to have conviction until</text>
<text x="1354" y="414.7" textLength="362" lengthAdjust="spacingAndGlyphs">we break above 8200 or below the</text>
<text x="1354" y="441.7" textLength="86" lengthAdjust="spacingAndGlyphs">200sma.</text>
<text x="1354" y="495.7" textLength="323.7" lengthAdjust="spacingAndGlyphs">Continue to preserve huge ytd</text>
<text x="1354" y="522.7" textLength="218" lengthAdjust="spacingAndGlyphs">gains , until the next</text>
<text x="1580" y="522.7" textLength="130" lengthAdjust="spacingAndGlyphs" font-weight="normal" font-size="22.5" fill="#2eaa4a" stroke="#2eaa4a" stroke-width="0.55">UPTREND</text>
</g>
</g>

</svg>

</body></html>
